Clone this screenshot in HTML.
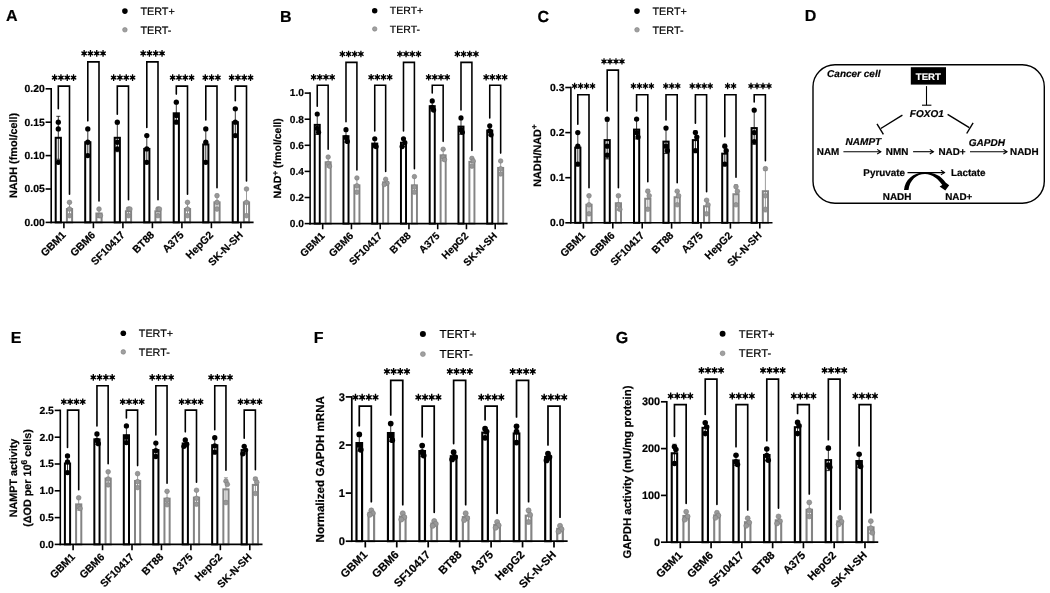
<!DOCTYPE html>
<html><head><meta charset="utf-8"><title>Figure</title>
<style>html,body{margin:0;padding:0;background:#fff;}body{width:1050px;height:593px;overflow:hidden;font-family:"Liberation Sans", sans-serif;}svg{display:block;will-change:transform;transform:translateZ(0);}</style>
</head><body>
<svg width="1050" height="593" viewBox="0 0 1050 593" font-family='"Liberation Sans", sans-serif' text-rendering="geometricPrecision">
<rect x="55.70" y="137.79" width="5.20" height="84.61" fill="#fff" stroke="#000000" stroke-width="2.00"/>
<line x1="58.30" y1="116.31" x2="58.30" y2="159.26" stroke="#000000" stroke-width="0.8" stroke-linecap="butt"/>
<line x1="56.30" y1="116.31" x2="60.30" y2="116.31" stroke="#000000" stroke-width="0.8" stroke-linecap="butt"/>
<line x1="56.30" y1="159.26" x2="60.30" y2="159.26" stroke="#000000" stroke-width="0.8" stroke-linecap="butt"/>
<circle cx="58.30" cy="122.20" r="2.65" fill="#000"/>
<circle cx="58.30" cy="128.88" r="2.65" fill="#000"/>
<circle cx="58.30" cy="162.28" r="2.65" fill="#000"/>
<rect x="66.90" y="209.04" width="5.20" height="13.36" fill="#fff" stroke="#848484" stroke-width="2.00"/>
<line x1="69.50" y1="202.36" x2="69.50" y2="215.72" stroke="#848484" stroke-width="0.8" stroke-linecap="butt"/>
<line x1="67.50" y1="202.36" x2="71.50" y2="202.36" stroke="#848484" stroke-width="0.8" stroke-linecap="butt"/>
<line x1="67.50" y1="215.72" x2="71.50" y2="215.72" stroke="#848484" stroke-width="0.8" stroke-linecap="butt"/>
<circle cx="69.50" cy="202.36" r="2.35" fill="#989898" stroke="#7c7c7c" stroke-width="0.6"/>
<circle cx="69.50" cy="209.04" r="2.35" fill="#989898" stroke="#7c7c7c" stroke-width="0.6"/>
<circle cx="69.50" cy="215.72" r="2.35" fill="#989898" stroke="#7c7c7c" stroke-width="0.6"/>
<rect x="85.20" y="142.24" width="5.20" height="80.16" fill="#fff" stroke="#000000" stroke-width="2.00"/>
<line x1="87.80" y1="128.88" x2="87.80" y2="155.60" stroke="#000000" stroke-width="0.8" stroke-linecap="butt"/>
<line x1="85.80" y1="128.88" x2="89.80" y2="128.88" stroke="#000000" stroke-width="0.8" stroke-linecap="butt"/>
<line x1="85.80" y1="155.60" x2="89.80" y2="155.60" stroke="#000000" stroke-width="0.8" stroke-linecap="butt"/>
<circle cx="87.80" cy="128.88" r="2.65" fill="#000"/>
<circle cx="87.80" cy="142.24" r="2.65" fill="#000"/>
<circle cx="87.80" cy="155.60" r="2.65" fill="#000"/>
<rect x="96.40" y="213.49" width="5.20" height="8.91" fill="#fff" stroke="#848484" stroke-width="2.00"/>
<line x1="99.00" y1="209.64" x2="99.00" y2="217.35" stroke="#848484" stroke-width="0.8" stroke-linecap="butt"/>
<line x1="97.00" y1="209.64" x2="101.00" y2="209.64" stroke="#848484" stroke-width="0.8" stroke-linecap="butt"/>
<line x1="97.00" y1="217.35" x2="101.00" y2="217.35" stroke="#848484" stroke-width="0.8" stroke-linecap="butt"/>
<circle cx="99.00" cy="209.04" r="2.35" fill="#989898" stroke="#7c7c7c" stroke-width="0.6"/>
<circle cx="99.00" cy="215.72" r="2.35" fill="#989898" stroke="#7c7c7c" stroke-width="0.6"/>
<circle cx="100.40" cy="215.72" r="2.35" fill="#989898" stroke="#7c7c7c" stroke-width="0.6"/>
<rect x="114.70" y="137.79" width="5.20" height="84.61" fill="#fff" stroke="#000000" stroke-width="2.00"/>
<line x1="117.30" y1="123.88" x2="117.30" y2="151.69" stroke="#000000" stroke-width="0.8" stroke-linecap="butt"/>
<line x1="115.30" y1="123.88" x2="119.30" y2="123.88" stroke="#000000" stroke-width="0.8" stroke-linecap="butt"/>
<line x1="115.30" y1="151.69" x2="119.30" y2="151.69" stroke="#000000" stroke-width="0.8" stroke-linecap="butt"/>
<circle cx="117.30" cy="122.20" r="2.65" fill="#000"/>
<circle cx="117.30" cy="142.24" r="2.65" fill="#000"/>
<circle cx="117.30" cy="148.92" r="2.65" fill="#000"/>
<rect x="125.90" y="211.27" width="5.20" height="11.13" fill="#fff" stroke="#848484" stroke-width="2.00"/>
<line x1="128.50" y1="207.41" x2="128.50" y2="215.12" stroke="#848484" stroke-width="0.8" stroke-linecap="butt"/>
<line x1="126.50" y1="207.41" x2="130.50" y2="207.41" stroke="#848484" stroke-width="0.8" stroke-linecap="butt"/>
<line x1="126.50" y1="215.12" x2="130.50" y2="215.12" stroke="#848484" stroke-width="0.8" stroke-linecap="butt"/>
<circle cx="128.50" cy="209.04" r="2.35" fill="#989898" stroke="#7c7c7c" stroke-width="0.6"/>
<circle cx="129.90" cy="209.04" r="2.35" fill="#989898" stroke="#7c7c7c" stroke-width="0.6"/>
<circle cx="128.50" cy="215.72" r="2.35" fill="#989898" stroke="#7c7c7c" stroke-width="0.6"/>
<rect x="144.20" y="148.92" width="5.20" height="73.48" fill="#fff" stroke="#000000" stroke-width="2.00"/>
<line x1="146.80" y1="135.56" x2="146.80" y2="162.28" stroke="#000000" stroke-width="0.8" stroke-linecap="butt"/>
<line x1="144.80" y1="135.56" x2="148.80" y2="135.56" stroke="#000000" stroke-width="0.8" stroke-linecap="butt"/>
<line x1="144.80" y1="162.28" x2="148.80" y2="162.28" stroke="#000000" stroke-width="0.8" stroke-linecap="butt"/>
<circle cx="146.80" cy="135.56" r="2.65" fill="#000"/>
<circle cx="146.80" cy="148.92" r="2.65" fill="#000"/>
<circle cx="146.80" cy="162.28" r="2.65" fill="#000"/>
<rect x="155.40" y="211.27" width="5.20" height="11.13" fill="#fff" stroke="#848484" stroke-width="2.00"/>
<line x1="158.00" y1="207.41" x2="158.00" y2="215.12" stroke="#848484" stroke-width="0.8" stroke-linecap="butt"/>
<line x1="156.00" y1="207.41" x2="160.00" y2="207.41" stroke="#848484" stroke-width="0.8" stroke-linecap="butt"/>
<line x1="156.00" y1="215.12" x2="160.00" y2="215.12" stroke="#848484" stroke-width="0.8" stroke-linecap="butt"/>
<circle cx="158.00" cy="209.04" r="2.35" fill="#989898" stroke="#7c7c7c" stroke-width="0.6"/>
<circle cx="159.40" cy="209.04" r="2.35" fill="#989898" stroke="#7c7c7c" stroke-width="0.6"/>
<circle cx="158.00" cy="215.72" r="2.35" fill="#989898" stroke="#7c7c7c" stroke-width="0.6"/>
<rect x="173.70" y="113.29" width="5.20" height="109.11" fill="#fff" stroke="#000000" stroke-width="2.00"/>
<line x1="176.30" y1="103.09" x2="176.30" y2="123.50" stroke="#000000" stroke-width="0.8" stroke-linecap="butt"/>
<line x1="174.30" y1="103.09" x2="178.30" y2="103.09" stroke="#000000" stroke-width="0.8" stroke-linecap="butt"/>
<line x1="174.30" y1="123.50" x2="178.30" y2="123.50" stroke="#000000" stroke-width="0.8" stroke-linecap="butt"/>
<circle cx="176.30" cy="102.16" r="2.65" fill="#000"/>
<circle cx="176.30" cy="115.52" r="2.65" fill="#000"/>
<circle cx="176.30" cy="122.20" r="2.65" fill="#000"/>
<rect x="184.90" y="209.04" width="5.20" height="13.36" fill="#fff" stroke="#848484" stroke-width="2.00"/>
<line x1="187.50" y1="202.36" x2="187.50" y2="215.72" stroke="#848484" stroke-width="0.8" stroke-linecap="butt"/>
<line x1="185.50" y1="202.36" x2="189.50" y2="202.36" stroke="#848484" stroke-width="0.8" stroke-linecap="butt"/>
<line x1="185.50" y1="215.72" x2="189.50" y2="215.72" stroke="#848484" stroke-width="0.8" stroke-linecap="butt"/>
<circle cx="187.50" cy="202.36" r="2.35" fill="#989898" stroke="#7c7c7c" stroke-width="0.6"/>
<circle cx="187.50" cy="209.04" r="2.35" fill="#989898" stroke="#7c7c7c" stroke-width="0.6"/>
<circle cx="187.50" cy="215.72" r="2.35" fill="#989898" stroke="#7c7c7c" stroke-width="0.6"/>
<rect x="203.20" y="144.47" width="5.20" height="77.93" fill="#fff" stroke="#000000" stroke-width="2.00"/>
<line x1="205.80" y1="127.66" x2="205.80" y2="161.28" stroke="#000000" stroke-width="0.8" stroke-linecap="butt"/>
<line x1="203.80" y1="127.66" x2="207.80" y2="127.66" stroke="#000000" stroke-width="0.8" stroke-linecap="butt"/>
<line x1="203.80" y1="161.28" x2="207.80" y2="161.28" stroke="#000000" stroke-width="0.8" stroke-linecap="butt"/>
<circle cx="205.80" cy="128.88" r="2.65" fill="#000"/>
<circle cx="205.80" cy="142.24" r="2.65" fill="#000"/>
<circle cx="205.80" cy="162.28" r="2.65" fill="#000"/>
<rect x="214.40" y="202.36" width="5.20" height="20.04" fill="#fff" stroke="#848484" stroke-width="2.00"/>
<line x1="217.00" y1="195.68" x2="217.00" y2="209.04" stroke="#848484" stroke-width="0.8" stroke-linecap="butt"/>
<line x1="215.00" y1="195.68" x2="219.00" y2="195.68" stroke="#848484" stroke-width="0.8" stroke-linecap="butt"/>
<line x1="215.00" y1="209.04" x2="219.00" y2="209.04" stroke="#848484" stroke-width="0.8" stroke-linecap="butt"/>
<circle cx="217.00" cy="195.68" r="2.35" fill="#989898" stroke="#7c7c7c" stroke-width="0.6"/>
<circle cx="217.00" cy="202.36" r="2.35" fill="#989898" stroke="#7c7c7c" stroke-width="0.6"/>
<circle cx="217.00" cy="209.04" r="2.35" fill="#989898" stroke="#7c7c7c" stroke-width="0.6"/>
<rect x="232.70" y="122.20" width="5.20" height="100.20" fill="#fff" stroke="#000000" stroke-width="2.00"/>
<line x1="235.30" y1="108.84" x2="235.30" y2="135.56" stroke="#000000" stroke-width="0.8" stroke-linecap="butt"/>
<line x1="233.30" y1="108.84" x2="237.30" y2="108.84" stroke="#000000" stroke-width="0.8" stroke-linecap="butt"/>
<line x1="233.30" y1="135.56" x2="237.30" y2="135.56" stroke="#000000" stroke-width="0.8" stroke-linecap="butt"/>
<circle cx="235.30" cy="108.84" r="2.65" fill="#000"/>
<circle cx="235.30" cy="122.20" r="2.65" fill="#000"/>
<circle cx="235.30" cy="135.56" r="2.65" fill="#000"/>
<rect x="243.90" y="202.36" width="5.20" height="20.04" fill="#fff" stroke="#848484" stroke-width="2.00"/>
<line x1="246.50" y1="189.00" x2="246.50" y2="215.72" stroke="#848484" stroke-width="0.8" stroke-linecap="butt"/>
<line x1="244.50" y1="189.00" x2="248.50" y2="189.00" stroke="#848484" stroke-width="0.8" stroke-linecap="butt"/>
<line x1="244.50" y1="215.72" x2="248.50" y2="215.72" stroke="#848484" stroke-width="0.8" stroke-linecap="butt"/>
<circle cx="246.50" cy="189.00" r="2.35" fill="#989898" stroke="#7c7c7c" stroke-width="0.6"/>
<circle cx="246.50" cy="202.36" r="2.35" fill="#989898" stroke="#7c7c7c" stroke-width="0.6"/>
<circle cx="246.50" cy="215.72" r="2.35" fill="#989898" stroke="#7c7c7c" stroke-width="0.6"/>
<line x1="51.20" y1="88.00" x2="51.20" y2="223.20" stroke="#000" stroke-width="1.6" stroke-linecap="butt"/>
<line x1="50.40" y1="222.40" x2="253.60" y2="222.40" stroke="#000" stroke-width="1.6" stroke-linecap="butt"/>
<line x1="45.60" y1="222.40" x2="51.20" y2="222.40" stroke="#000" stroke-width="1.6" stroke-linecap="butt"/>
<text x="44.80" y="225.85" font-size="10.4" font-weight="bold" font-style="normal" text-anchor="end" fill="#000" stroke="#000" stroke-width="0.2">0.00</text>
<line x1="45.60" y1="189.00" x2="51.20" y2="189.00" stroke="#000" stroke-width="1.6" stroke-linecap="butt"/>
<text x="44.80" y="192.45" font-size="10.4" font-weight="bold" font-style="normal" text-anchor="end" fill="#000" stroke="#000" stroke-width="0.2">0.05</text>
<line x1="45.60" y1="155.60" x2="51.20" y2="155.60" stroke="#000" stroke-width="1.6" stroke-linecap="butt"/>
<text x="44.80" y="159.05" font-size="10.4" font-weight="bold" font-style="normal" text-anchor="end" fill="#000" stroke="#000" stroke-width="0.2">0.10</text>
<line x1="45.60" y1="122.20" x2="51.20" y2="122.20" stroke="#000" stroke-width="1.6" stroke-linecap="butt"/>
<text x="44.80" y="125.65" font-size="10.4" font-weight="bold" font-style="normal" text-anchor="end" fill="#000" stroke="#000" stroke-width="0.2">0.15</text>
<line x1="45.60" y1="88.80" x2="51.20" y2="88.80" stroke="#000" stroke-width="1.6" stroke-linecap="butt"/>
<text x="44.80" y="92.25" font-size="10.4" font-weight="bold" font-style="normal" text-anchor="end" fill="#000" stroke="#000" stroke-width="0.2">0.20</text>
<line x1="63.90" y1="222.40" x2="63.90" y2="228.20" stroke="#000" stroke-width="1.6" stroke-linecap="butt"/>
<text x="66.50" y="235.60" font-size="10.5" font-weight="bold" font-style="normal" text-anchor="end" fill="#000" transform="rotate(-45 66.50 235.60)" stroke="#000" stroke-width="0.2">GBM1</text>
<line x1="93.40" y1="222.40" x2="93.40" y2="228.20" stroke="#000" stroke-width="1.6" stroke-linecap="butt"/>
<text x="96.00" y="235.60" font-size="10.5" font-weight="bold" font-style="normal" text-anchor="end" fill="#000" transform="rotate(-45 96.00 235.60)" stroke="#000" stroke-width="0.2">GBM6</text>
<line x1="122.90" y1="222.40" x2="122.90" y2="228.20" stroke="#000" stroke-width="1.6" stroke-linecap="butt"/>
<text x="125.50" y="235.60" font-size="10.5" font-weight="bold" font-style="normal" text-anchor="end" fill="#000" transform="rotate(-45 125.50 235.60)" stroke="#000" stroke-width="0.2">SF10417</text>
<line x1="152.40" y1="222.40" x2="152.40" y2="228.20" stroke="#000" stroke-width="1.6" stroke-linecap="butt"/>
<text x="155.00" y="235.60" font-size="10.5" font-weight="bold" font-style="normal" text-anchor="end" fill="#000" transform="rotate(-45 155.00 235.60)" stroke="#000" stroke-width="0.2">BT88</text>
<line x1="181.90" y1="222.40" x2="181.90" y2="228.20" stroke="#000" stroke-width="1.6" stroke-linecap="butt"/>
<text x="184.50" y="235.60" font-size="10.5" font-weight="bold" font-style="normal" text-anchor="end" fill="#000" transform="rotate(-45 184.50 235.60)" stroke="#000" stroke-width="0.2">A375</text>
<line x1="211.40" y1="222.40" x2="211.40" y2="228.20" stroke="#000" stroke-width="1.6" stroke-linecap="butt"/>
<text x="214.00" y="235.60" font-size="10.5" font-weight="bold" font-style="normal" text-anchor="end" fill="#000" transform="rotate(-45 214.00 235.60)" stroke="#000" stroke-width="0.2">HepG2</text>
<line x1="240.90" y1="222.40" x2="240.90" y2="228.20" stroke="#000" stroke-width="1.6" stroke-linecap="butt"/>
<text x="243.50" y="235.60" font-size="10.5" font-weight="bold" font-style="normal" text-anchor="end" fill="#000" transform="rotate(-45 243.50 235.60)" stroke="#000" stroke-width="0.2">SK-N-SH</text>
<path d="M58.30 108.71 V86.10 H69.50 V194.31" fill="none" stroke="#000" stroke-width="1.60" stroke-linecap="round"/>
<path d="M54.03 74.30L55.27 74.30L55.38 76.29L57.04 75.38L57.69 76.43L56.15 77.60L57.69 78.77L57.04 79.82L55.38 78.91L55.27 80.90L54.03 80.90L53.92 78.91L52.26 79.82L51.61 78.77L53.15 77.60L51.61 76.43L52.26 75.38L53.92 76.29ZM60.33 74.30L61.57 74.30L61.68 76.29L63.34 75.38L63.99 76.43L62.45 77.60L63.99 78.77L63.34 79.82L61.68 78.91L61.57 80.90L60.33 80.90L60.22 78.91L58.56 79.82L57.91 78.77L59.45 77.60L57.91 76.43L58.56 75.38L60.22 76.29ZM66.63 74.30L67.87 74.30L67.98 76.29L69.64 75.38L70.29 76.43L68.75 77.60L70.29 78.77L69.64 79.82L67.98 78.91L67.87 80.90L66.63 80.90L66.52 78.91L64.86 79.82L64.21 78.77L65.75 77.60L64.21 76.43L64.86 75.38L66.52 76.29ZM72.93 74.30L74.17 74.30L74.28 76.29L75.94 75.38L76.59 76.43L75.05 77.60L76.59 78.77L75.94 79.82L74.28 78.91L74.17 80.90L72.93 80.90L72.82 78.91L71.16 79.82L70.51 78.77L72.05 77.60L70.51 76.43L71.16 75.38L72.82 76.29Z" fill="#000"/>
<path d="M87.80 120.83 V61.90 H99.00 V200.99" fill="none" stroke="#000" stroke-width="1.60" stroke-linecap="round"/>
<path d="M83.53 50.10L84.77 50.10L84.88 52.09L86.54 51.18L87.19 52.23L85.65 53.40L87.19 54.57L86.54 55.62L84.88 54.71L84.77 56.70L83.53 56.70L83.42 54.71L81.76 55.62L81.11 54.57L82.65 53.40L81.11 52.23L81.76 51.18L83.42 52.09ZM89.83 50.10L91.07 50.10L91.18 52.09L92.84 51.18L93.49 52.23L91.95 53.40L93.49 54.57L92.84 55.62L91.18 54.71L91.07 56.70L89.83 56.70L89.72 54.71L88.06 55.62L87.41 54.57L88.95 53.40L87.41 52.23L88.06 51.18L89.72 52.09ZM96.13 50.10L97.37 50.10L97.48 52.09L99.14 51.18L99.79 52.23L98.25 53.40L99.79 54.57L99.14 55.62L97.48 54.71L97.37 56.70L96.13 56.70L96.02 54.71L94.36 55.62L93.71 54.57L95.25 53.40L93.71 52.23L94.36 51.18L96.02 52.09ZM102.43 50.10L103.67 50.10L103.78 52.09L105.44 51.18L106.09 52.23L104.55 53.40L106.09 54.57L105.44 55.62L103.78 54.71L103.67 56.70L102.43 56.70L102.32 54.71L100.66 55.62L100.01 54.57L101.55 53.40L100.01 52.23L100.66 51.18L102.32 52.09Z" fill="#000"/>
<path d="M117.30 114.15 V86.10 H128.50 V199.81" fill="none" stroke="#000" stroke-width="1.60" stroke-linecap="round"/>
<path d="M113.03 74.30L114.27 74.30L114.38 76.29L116.04 75.38L116.69 76.43L115.15 77.60L116.69 78.77L116.04 79.82L114.38 78.91L114.27 80.90L113.03 80.90L112.92 78.91L111.26 79.82L110.61 78.77L112.15 77.60L110.61 76.43L111.26 75.38L112.92 76.29ZM119.33 74.30L120.57 74.30L120.68 76.29L122.34 75.38L122.99 76.43L121.45 77.60L122.99 78.77L122.34 79.82L120.68 78.91L120.57 80.90L119.33 80.90L119.22 78.91L117.56 79.82L116.91 78.77L118.45 77.60L116.91 76.43L117.56 75.38L119.22 76.29ZM125.63 74.30L126.87 74.30L126.98 76.29L128.64 75.38L129.29 76.43L127.75 77.60L129.29 78.77L128.64 79.82L126.98 78.91L126.87 80.90L125.63 80.90L125.52 78.91L123.86 79.82L123.21 78.77L124.75 77.60L123.21 76.43L123.86 75.38L125.52 76.29ZM131.93 74.30L133.17 74.30L133.28 76.29L134.94 75.38L135.59 76.43L134.05 77.60L135.59 78.77L134.94 79.82L133.28 78.91L133.17 80.90L131.93 80.90L131.82 78.91L130.16 79.82L129.51 78.77L131.05 77.60L129.51 76.43L130.16 75.38L131.82 76.29Z" fill="#000"/>
<path d="M146.80 127.51 V61.90 H158.00 V199.81" fill="none" stroke="#000" stroke-width="1.60" stroke-linecap="round"/>
<path d="M142.53 50.10L143.77 50.10L143.88 52.09L145.54 51.18L146.19 52.23L144.65 53.40L146.19 54.57L145.54 55.62L143.88 54.71L143.77 56.70L142.53 56.70L142.42 54.71L140.76 55.62L140.11 54.57L141.65 53.40L140.11 52.23L140.76 51.18L142.42 52.09ZM148.83 50.10L150.07 50.10L150.18 52.09L151.84 51.18L152.49 52.23L150.95 53.40L152.49 54.57L151.84 55.62L150.18 54.71L150.07 56.70L148.83 56.70L148.72 54.71L147.06 55.62L146.41 54.57L147.95 53.40L146.41 52.23L147.06 51.18L148.72 52.09ZM155.13 50.10L156.37 50.10L156.48 52.09L158.14 51.18L158.79 52.23L157.25 53.40L158.79 54.57L158.14 55.62L156.48 54.71L156.37 56.70L155.13 56.70L155.02 54.71L153.36 55.62L152.71 54.57L154.25 53.40L152.71 52.23L153.36 51.18L155.02 52.09ZM161.43 50.10L162.67 50.10L162.78 52.09L164.44 51.18L165.09 52.23L163.55 53.40L165.09 54.57L164.44 55.62L162.78 54.71L162.67 56.70L161.43 56.70L161.32 54.71L159.66 55.62L159.01 54.57L160.55 53.40L159.01 52.23L159.66 51.18L161.32 52.09Z" fill="#000"/>
<path d="M176.30 94.11 V86.10 H187.50 V194.31" fill="none" stroke="#000" stroke-width="1.60" stroke-linecap="round"/>
<path d="M172.03 74.30L173.27 74.30L173.38 76.29L175.04 75.38L175.69 76.43L174.15 77.60L175.69 78.77L175.04 79.82L173.38 78.91L173.27 80.90L172.03 80.90L171.92 78.91L170.26 79.82L169.61 78.77L171.15 77.60L169.61 76.43L170.26 75.38L171.92 76.29ZM178.33 74.30L179.57 74.30L179.68 76.29L181.34 75.38L181.99 76.43L180.45 77.60L181.99 78.77L181.34 79.82L179.68 78.91L179.57 80.90L178.33 80.90L178.22 78.91L176.56 79.82L175.91 78.77L177.45 77.60L175.91 76.43L176.56 75.38L178.22 76.29ZM184.63 74.30L185.87 74.30L185.98 76.29L187.64 75.38L188.29 76.43L186.75 77.60L188.29 78.77L187.64 79.82L185.98 78.91L185.87 80.90L184.63 80.90L184.52 78.91L182.86 79.82L182.21 78.77L183.75 77.60L182.21 76.43L182.86 75.38L184.52 76.29ZM190.93 74.30L192.17 74.30L192.28 76.29L193.94 75.38L194.59 76.43L193.05 77.60L194.59 78.77L193.94 79.82L192.28 78.91L192.17 80.90L190.93 80.90L190.82 78.91L189.16 79.82L188.51 78.77L190.05 77.60L188.51 76.43L189.16 75.38L190.82 76.29Z" fill="#000"/>
<path d="M205.80 120.06 V86.10 H217.00 V187.63" fill="none" stroke="#000" stroke-width="1.60" stroke-linecap="round"/>
<path d="M204.68 74.30L205.92 74.30L206.03 76.29L207.69 75.38L208.34 76.43L206.80 77.60L208.34 78.77L207.69 79.82L206.03 78.91L205.92 80.90L204.68 80.90L204.57 78.91L202.91 79.82L202.26 78.77L203.80 77.60L202.26 76.43L202.91 75.38L204.57 76.29ZM210.98 74.30L212.22 74.30L212.33 76.29L213.99 75.38L214.64 76.43L213.10 77.60L214.64 78.77L213.99 79.82L212.33 78.91L212.22 80.90L210.98 80.90L210.87 78.91L209.21 79.82L208.56 78.77L210.10 77.60L208.56 76.43L209.21 75.38L210.87 76.29ZM217.28 74.30L218.52 74.30L218.63 76.29L220.29 75.38L220.94 76.43L219.40 77.60L220.94 78.77L220.29 79.82L218.63 78.91L218.52 80.90L217.28 80.90L217.17 78.91L215.51 79.82L214.86 78.77L216.40 77.60L214.86 76.43L215.51 75.38L217.17 76.29Z" fill="#000"/>
<path d="M235.30 100.79 V86.10 H246.50 V180.95" fill="none" stroke="#000" stroke-width="1.60" stroke-linecap="round"/>
<path d="M231.03 74.30L232.27 74.30L232.38 76.29L234.04 75.38L234.69 76.43L233.15 77.60L234.69 78.77L234.04 79.82L232.38 78.91L232.27 80.90L231.03 80.90L230.92 78.91L229.26 79.82L228.61 78.77L230.15 77.60L228.61 76.43L229.26 75.38L230.92 76.29ZM237.33 74.30L238.57 74.30L238.68 76.29L240.34 75.38L240.99 76.43L239.45 77.60L240.99 78.77L240.34 79.82L238.68 78.91L238.57 80.90L237.33 80.90L237.22 78.91L235.56 79.82L234.91 78.77L236.45 77.60L234.91 76.43L235.56 75.38L237.22 76.29ZM243.63 74.30L244.87 74.30L244.98 76.29L246.64 75.38L247.29 76.43L245.75 77.60L247.29 78.77L246.64 79.82L244.98 78.91L244.87 80.90L243.63 80.90L243.52 78.91L241.86 79.82L241.21 78.77L242.75 77.60L241.21 76.43L241.86 75.38L243.52 76.29ZM249.93 74.30L251.17 74.30L251.28 76.29L252.94 75.38L253.59 76.43L252.05 77.60L253.59 78.77L252.94 79.82L251.28 78.91L251.17 80.90L249.93 80.90L249.82 78.91L248.16 79.82L247.51 78.77L249.05 77.60L247.51 76.43L248.16 75.38L249.82 76.29Z" fill="#000"/>
<circle cx="124.90" cy="11.10" r="2.80" fill="#000"/>
<circle cx="124.90" cy="29.80" r="2.30" fill="#a0a0a0" stroke="#7c7c7c" stroke-width="0.6"/>
<text x="140.40" y="14.95" font-size="10.8" font-weight="normal" font-style="normal" text-anchor="start" fill="#000" stroke="#000" stroke-width="0.2">TERT+</text>
<text x="140.40" y="33.60" font-size="10.8" font-weight="normal" font-style="normal" text-anchor="start" fill="#000" stroke="#000" stroke-width="0.2">TERT-</text>
<text x="6.00" y="20.80" font-size="16" font-weight="bold" font-style="normal" text-anchor="start" fill="#000" stroke="#000" stroke-width="0.2">A</text>
<text x="16.90" y="155.50" font-size="10.8" font-weight="bold" font-style="normal" text-anchor="middle" fill="#000" transform="rotate(-90 16.90 155.50)" stroke="#000" stroke-width="0.2">NADH (fmol/cell)</text>
<rect x="314.70" y="124.85" width="5.07" height="98.75" fill="#fff" stroke="#000000" stroke-width="1.95"/>
<line x1="317.24" y1="115.24" x2="317.24" y2="134.47" stroke="#000000" stroke-width="0.8" stroke-linecap="butt"/>
<line x1="315.29" y1="115.24" x2="319.19" y2="115.24" stroke="#000000" stroke-width="0.8" stroke-linecap="butt"/>
<line x1="315.29" y1="134.47" x2="319.19" y2="134.47" stroke="#000000" stroke-width="0.8" stroke-linecap="butt"/>
<circle cx="317.24" cy="113.98" r="2.58" fill="#000"/>
<circle cx="317.24" cy="128.33" r="2.58" fill="#000"/>
<circle cx="318.61" cy="132.25" r="2.58" fill="#000"/>
<rect x="325.62" y="162.26" width="5.07" height="61.34" fill="#fff" stroke="#848484" stroke-width="1.95"/>
<line x1="328.16" y1="157.56" x2="328.16" y2="166.97" stroke="#848484" stroke-width="0.8" stroke-linecap="butt"/>
<line x1="326.21" y1="157.56" x2="330.11" y2="157.56" stroke="#848484" stroke-width="0.8" stroke-linecap="butt"/>
<line x1="326.21" y1="166.97" x2="330.11" y2="166.97" stroke="#848484" stroke-width="0.8" stroke-linecap="butt"/>
<circle cx="328.16" cy="157.04" r="2.28" fill="#989898" stroke="#7c7c7c" stroke-width="0.6"/>
<circle cx="328.16" cy="163.57" r="2.28" fill="#989898" stroke="#7c7c7c" stroke-width="0.6"/>
<circle cx="329.52" cy="166.18" r="2.28" fill="#989898" stroke="#7c7c7c" stroke-width="0.6"/>
<rect x="343.45" y="136.17" width="5.07" height="87.43" fill="#fff" stroke="#000000" stroke-width="1.95"/>
<line x1="345.99" y1="130.18" x2="345.99" y2="142.15" stroke="#000000" stroke-width="0.8" stroke-linecap="butt"/>
<line x1="344.04" y1="130.18" x2="347.94" y2="130.18" stroke="#000000" stroke-width="0.8" stroke-linecap="butt"/>
<line x1="344.04" y1="142.15" x2="347.94" y2="142.15" stroke="#000000" stroke-width="0.8" stroke-linecap="butt"/>
<circle cx="345.99" cy="129.64" r="2.58" fill="#000"/>
<circle cx="345.99" cy="137.47" r="2.58" fill="#000"/>
<circle cx="347.36" cy="141.38" r="2.58" fill="#000"/>
<rect x="354.37" y="185.32" width="5.07" height="38.28" fill="#fff" stroke="#848484" stroke-width="1.95"/>
<line x1="356.91" y1="178.13" x2="356.91" y2="192.51" stroke="#848484" stroke-width="0.8" stroke-linecap="butt"/>
<line x1="354.96" y1="178.13" x2="358.86" y2="178.13" stroke="#848484" stroke-width="0.8" stroke-linecap="butt"/>
<line x1="354.96" y1="192.51" x2="358.86" y2="192.51" stroke="#848484" stroke-width="0.8" stroke-linecap="butt"/>
<circle cx="356.91" cy="177.93" r="2.28" fill="#989898" stroke="#7c7c7c" stroke-width="0.6"/>
<circle cx="356.91" cy="185.75" r="2.28" fill="#989898" stroke="#7c7c7c" stroke-width="0.6"/>
<circle cx="356.91" cy="192.28" r="2.28" fill="#989898" stroke="#7c7c7c" stroke-width="0.6"/>
<rect x="372.20" y="143.56" width="5.07" height="80.04" fill="#fff" stroke="#000000" stroke-width="1.95"/>
<line x1="374.74" y1="139.37" x2="374.74" y2="147.75" stroke="#000000" stroke-width="0.8" stroke-linecap="butt"/>
<line x1="372.79" y1="139.37" x2="376.69" y2="139.37" stroke="#000000" stroke-width="0.8" stroke-linecap="butt"/>
<line x1="372.79" y1="147.75" x2="376.69" y2="147.75" stroke="#000000" stroke-width="0.8" stroke-linecap="butt"/>
<circle cx="374.74" cy="138.77" r="2.58" fill="#000"/>
<circle cx="374.74" cy="145.30" r="2.58" fill="#000"/>
<circle cx="376.11" cy="146.61" r="2.58" fill="#000"/>
<rect x="383.12" y="182.28" width="5.07" height="41.32" fill="#fff" stroke="#848484" stroke-width="1.95"/>
<line x1="385.66" y1="179.56" x2="385.66" y2="184.99" stroke="#848484" stroke-width="0.8" stroke-linecap="butt"/>
<line x1="383.71" y1="179.56" x2="387.61" y2="179.56" stroke="#848484" stroke-width="0.8" stroke-linecap="butt"/>
<line x1="383.71" y1="184.99" x2="387.61" y2="184.99" stroke="#848484" stroke-width="0.8" stroke-linecap="butt"/>
<circle cx="385.66" cy="179.23" r="2.28" fill="#989898" stroke="#7c7c7c" stroke-width="0.6"/>
<circle cx="387.02" cy="183.14" r="2.28" fill="#989898" stroke="#7c7c7c" stroke-width="0.6"/>
<circle cx="384.29" cy="184.45" r="2.28" fill="#989898" stroke="#7c7c7c" stroke-width="0.6"/>
<rect x="400.95" y="142.69" width="5.07" height="80.91" fill="#fff" stroke="#000000" stroke-width="1.95"/>
<line x1="403.49" y1="138.77" x2="403.49" y2="146.61" stroke="#000000" stroke-width="0.8" stroke-linecap="butt"/>
<line x1="401.54" y1="138.77" x2="405.44" y2="138.77" stroke="#000000" stroke-width="0.8" stroke-linecap="butt"/>
<line x1="401.54" y1="146.61" x2="405.44" y2="146.61" stroke="#000000" stroke-width="0.8" stroke-linecap="butt"/>
<circle cx="403.49" cy="138.77" r="2.58" fill="#000"/>
<circle cx="404.86" cy="142.69" r="2.58" fill="#000"/>
<circle cx="402.12" cy="146.61" r="2.58" fill="#000"/>
<rect x="411.87" y="185.32" width="5.07" height="38.28" fill="#fff" stroke="#848484" stroke-width="1.95"/>
<line x1="414.41" y1="177.35" x2="414.41" y2="193.29" stroke="#848484" stroke-width="0.8" stroke-linecap="butt"/>
<line x1="412.46" y1="177.35" x2="416.36" y2="177.35" stroke="#848484" stroke-width="0.8" stroke-linecap="butt"/>
<line x1="412.46" y1="193.29" x2="416.36" y2="193.29" stroke="#848484" stroke-width="0.8" stroke-linecap="butt"/>
<circle cx="414.41" cy="176.62" r="2.28" fill="#989898" stroke="#7c7c7c" stroke-width="0.6"/>
<circle cx="414.41" cy="187.06" r="2.28" fill="#989898" stroke="#7c7c7c" stroke-width="0.6"/>
<circle cx="414.41" cy="192.28" r="2.28" fill="#989898" stroke="#7c7c7c" stroke-width="0.6"/>
<rect x="429.70" y="106.15" width="5.07" height="117.45" fill="#fff" stroke="#000000" stroke-width="1.95"/>
<line x1="432.24" y1="101.44" x2="432.24" y2="110.86" stroke="#000000" stroke-width="0.8" stroke-linecap="butt"/>
<line x1="430.29" y1="101.44" x2="434.19" y2="101.44" stroke="#000000" stroke-width="0.8" stroke-linecap="butt"/>
<line x1="430.29" y1="110.86" x2="434.19" y2="110.86" stroke="#000000" stroke-width="0.8" stroke-linecap="butt"/>
<circle cx="432.24" cy="100.93" r="2.58" fill="#000"/>
<circle cx="432.24" cy="107.45" r="2.58" fill="#000"/>
<circle cx="433.61" cy="110.06" r="2.58" fill="#000"/>
<rect x="440.62" y="155.31" width="5.07" height="68.29" fill="#fff" stroke="#848484" stroke-width="1.95"/>
<line x1="443.16" y1="149.87" x2="443.16" y2="160.74" stroke="#848484" stroke-width="0.8" stroke-linecap="butt"/>
<line x1="441.21" y1="149.87" x2="445.11" y2="149.87" stroke="#848484" stroke-width="0.8" stroke-linecap="butt"/>
<line x1="441.21" y1="160.74" x2="445.11" y2="160.74" stroke="#848484" stroke-width="0.8" stroke-linecap="butt"/>
<circle cx="443.16" cy="149.22" r="2.28" fill="#989898" stroke="#7c7c7c" stroke-width="0.6"/>
<circle cx="443.16" cy="157.04" r="2.28" fill="#989898" stroke="#7c7c7c" stroke-width="0.6"/>
<circle cx="444.52" cy="159.66" r="2.28" fill="#989898" stroke="#7c7c7c" stroke-width="0.6"/>
<rect x="458.45" y="126.59" width="5.07" height="97.00" fill="#fff" stroke="#000000" stroke-width="1.95"/>
<line x1="460.99" y1="118.95" x2="460.99" y2="134.24" stroke="#000000" stroke-width="0.8" stroke-linecap="butt"/>
<line x1="459.04" y1="118.95" x2="462.94" y2="118.95" stroke="#000000" stroke-width="0.8" stroke-linecap="butt"/>
<line x1="459.04" y1="134.24" x2="462.94" y2="134.24" stroke="#000000" stroke-width="0.8" stroke-linecap="butt"/>
<circle cx="460.99" cy="117.89" r="2.58" fill="#000"/>
<circle cx="460.99" cy="129.64" r="2.58" fill="#000"/>
<circle cx="462.36" cy="132.25" r="2.58" fill="#000"/>
<rect x="469.37" y="161.83" width="5.07" height="61.77" fill="#fff" stroke="#848484" stroke-width="1.95"/>
<line x1="471.91" y1="157.84" x2="471.91" y2="165.82" stroke="#848484" stroke-width="0.8" stroke-linecap="butt"/>
<line x1="469.96" y1="157.84" x2="473.86" y2="157.84" stroke="#848484" stroke-width="0.8" stroke-linecap="butt"/>
<line x1="469.96" y1="165.82" x2="473.86" y2="165.82" stroke="#848484" stroke-width="0.8" stroke-linecap="butt"/>
<circle cx="471.91" cy="158.35" r="2.28" fill="#989898" stroke="#7c7c7c" stroke-width="0.6"/>
<circle cx="473.27" cy="160.96" r="2.28" fill="#989898" stroke="#7c7c7c" stroke-width="0.6"/>
<circle cx="471.91" cy="166.18" r="2.28" fill="#989898" stroke="#7c7c7c" stroke-width="0.6"/>
<rect x="487.20" y="130.51" width="5.07" height="93.09" fill="#fff" stroke="#000000" stroke-width="1.95"/>
<line x1="489.74" y1="125.93" x2="489.74" y2="135.09" stroke="#000000" stroke-width="0.8" stroke-linecap="butt"/>
<line x1="487.79" y1="125.93" x2="491.69" y2="125.93" stroke="#000000" stroke-width="0.8" stroke-linecap="butt"/>
<line x1="487.79" y1="135.09" x2="491.69" y2="135.09" stroke="#000000" stroke-width="0.8" stroke-linecap="butt"/>
<circle cx="489.74" cy="125.72" r="2.58" fill="#000"/>
<circle cx="489.74" cy="130.94" r="2.58" fill="#000"/>
<circle cx="491.11" cy="134.86" r="2.58" fill="#000"/>
<rect x="498.12" y="167.92" width="5.07" height="55.68" fill="#fff" stroke="#848484" stroke-width="1.95"/>
<line x1="500.66" y1="161.35" x2="500.66" y2="174.49" stroke="#848484" stroke-width="0.8" stroke-linecap="butt"/>
<line x1="498.71" y1="161.35" x2="502.61" y2="161.35" stroke="#848484" stroke-width="0.8" stroke-linecap="butt"/>
<line x1="498.71" y1="174.49" x2="502.61" y2="174.49" stroke="#848484" stroke-width="0.8" stroke-linecap="butt"/>
<circle cx="500.66" cy="160.96" r="2.28" fill="#989898" stroke="#7c7c7c" stroke-width="0.6"/>
<circle cx="500.66" cy="168.79" r="2.28" fill="#989898" stroke="#7c7c7c" stroke-width="0.6"/>
<circle cx="500.66" cy="174.01" r="2.28" fill="#989898" stroke="#7c7c7c" stroke-width="0.6"/>
<line x1="310.10" y1="92.32" x2="310.10" y2="224.38" stroke="#000" stroke-width="1.56" stroke-linecap="butt"/>
<line x1="309.32" y1="223.60" x2="507.58" y2="223.60" stroke="#000" stroke-width="1.56" stroke-linecap="butt"/>
<line x1="304.64" y1="223.60" x2="310.10" y2="223.60" stroke="#000" stroke-width="1.56" stroke-linecap="butt"/>
<text x="303.86" y="226.96" font-size="10.14" font-weight="bold" font-style="normal" text-anchor="end" fill="#000" stroke="#000" stroke-width="0.2">0.0</text>
<line x1="304.64" y1="197.50" x2="310.10" y2="197.50" stroke="#000" stroke-width="1.56" stroke-linecap="butt"/>
<text x="303.86" y="200.86" font-size="10.14" font-weight="bold" font-style="normal" text-anchor="end" fill="#000" stroke="#000" stroke-width="0.2">0.2</text>
<line x1="304.64" y1="171.40" x2="310.10" y2="171.40" stroke="#000" stroke-width="1.56" stroke-linecap="butt"/>
<text x="303.86" y="174.76" font-size="10.14" font-weight="bold" font-style="normal" text-anchor="end" fill="#000" stroke="#000" stroke-width="0.2">0.4</text>
<line x1="304.64" y1="145.30" x2="310.10" y2="145.30" stroke="#000" stroke-width="1.56" stroke-linecap="butt"/>
<text x="303.86" y="148.66" font-size="10.14" font-weight="bold" font-style="normal" text-anchor="end" fill="#000" stroke="#000" stroke-width="0.2">0.6</text>
<line x1="304.64" y1="119.20" x2="310.10" y2="119.20" stroke="#000" stroke-width="1.56" stroke-linecap="butt"/>
<text x="303.86" y="122.56" font-size="10.14" font-weight="bold" font-style="normal" text-anchor="end" fill="#000" stroke="#000" stroke-width="0.2">0.8</text>
<line x1="304.64" y1="93.10" x2="310.10" y2="93.10" stroke="#000" stroke-width="1.56" stroke-linecap="butt"/>
<text x="303.86" y="96.46" font-size="10.14" font-weight="bold" font-style="normal" text-anchor="end" fill="#000" stroke="#000" stroke-width="0.2">1.0</text>
<line x1="322.70" y1="223.60" x2="322.70" y2="229.25" stroke="#000" stroke-width="1.56" stroke-linecap="butt"/>
<text x="325.24" y="236.47" font-size="10.24" font-weight="bold" font-style="normal" text-anchor="end" fill="#000" transform="rotate(-45 325.24 236.47)" stroke="#000" stroke-width="0.2">GBM1</text>
<line x1="351.45" y1="223.60" x2="351.45" y2="229.25" stroke="#000" stroke-width="1.56" stroke-linecap="butt"/>
<text x="353.99" y="236.47" font-size="10.24" font-weight="bold" font-style="normal" text-anchor="end" fill="#000" transform="rotate(-45 353.99 236.47)" stroke="#000" stroke-width="0.2">GBM6</text>
<line x1="380.20" y1="223.60" x2="380.20" y2="229.25" stroke="#000" stroke-width="1.56" stroke-linecap="butt"/>
<text x="382.74" y="236.47" font-size="10.24" font-weight="bold" font-style="normal" text-anchor="end" fill="#000" transform="rotate(-45 382.74 236.47)" stroke="#000" stroke-width="0.2">SF10417</text>
<line x1="408.95" y1="223.60" x2="408.95" y2="229.25" stroke="#000" stroke-width="1.56" stroke-linecap="butt"/>
<text x="411.49" y="236.47" font-size="10.24" font-weight="bold" font-style="normal" text-anchor="end" fill="#000" transform="rotate(-45 411.49 236.47)" stroke="#000" stroke-width="0.2">BT88</text>
<line x1="437.70" y1="223.60" x2="437.70" y2="229.25" stroke="#000" stroke-width="1.56" stroke-linecap="butt"/>
<text x="440.24" y="236.47" font-size="10.24" font-weight="bold" font-style="normal" text-anchor="end" fill="#000" transform="rotate(-45 440.24 236.47)" stroke="#000" stroke-width="0.2">A375</text>
<line x1="466.45" y1="223.60" x2="466.45" y2="229.25" stroke="#000" stroke-width="1.56" stroke-linecap="butt"/>
<text x="468.99" y="236.47" font-size="10.24" font-weight="bold" font-style="normal" text-anchor="end" fill="#000" transform="rotate(-45 468.99 236.47)" stroke="#000" stroke-width="0.2">HepG2</text>
<line x1="495.20" y1="223.60" x2="495.20" y2="229.25" stroke="#000" stroke-width="1.56" stroke-linecap="butt"/>
<text x="497.74" y="236.47" font-size="10.24" font-weight="bold" font-style="normal" text-anchor="end" fill="#000" transform="rotate(-45 497.74 236.47)" stroke="#000" stroke-width="0.2">SK-N-SH</text>
<path d="M317.24 106.13 V85.30 H328.16 V149.20" fill="none" stroke="#000" stroke-width="1.56" stroke-linecap="round"/>
<path d="M313.03 73.97L314.25 73.97L314.35 75.92L315.98 75.03L316.62 76.06L315.11 77.21L316.62 78.35L315.98 79.38L314.35 78.49L314.25 80.44L313.03 80.44L312.93 78.49L311.30 79.38L310.66 78.35L312.17 77.21L310.66 76.06L311.30 75.03L312.93 75.92ZM319.21 73.97L320.42 73.97L320.53 75.92L322.15 75.03L322.79 76.06L321.28 77.21L322.79 78.35L322.15 79.38L320.53 78.49L320.42 80.44L319.21 80.44L319.10 78.49L317.48 79.38L316.83 78.35L318.34 77.21L316.83 76.06L317.48 75.03L319.10 75.92ZM325.38 73.97L326.59 73.97L326.70 75.92L328.32 75.03L328.97 76.06L327.46 77.21L328.97 78.35L328.32 79.38L326.70 78.49L326.59 80.44L325.38 80.44L325.27 78.49L323.65 79.38L323.01 78.35L324.52 77.21L323.01 76.06L323.65 75.03L325.27 75.92ZM331.55 73.97L332.77 73.97L332.87 75.92L334.50 75.03L335.14 76.06L333.63 77.21L335.14 78.35L334.50 79.38L332.87 78.49L332.77 80.44L331.55 80.44L331.45 78.49L329.82 79.38L329.18 78.35L330.69 77.21L329.18 76.06L329.82 75.03L331.45 75.92Z" fill="#000"/>
<path d="M345.99 121.79 V62.40 H356.91 V170.08" fill="none" stroke="#000" stroke-width="1.56" stroke-linecap="round"/>
<path d="M341.78 50.77L343.00 50.77L343.10 52.72L344.73 51.83L345.37 52.86L343.86 54.01L345.37 55.15L344.73 56.18L343.10 55.29L343.00 57.24L341.78 57.24L341.68 55.29L340.05 56.18L339.41 55.15L340.92 54.01L339.41 52.86L340.05 51.83L341.68 52.72ZM347.96 50.77L349.17 50.77L349.28 52.72L350.90 51.83L351.54 52.86L350.03 54.01L351.54 55.15L350.90 56.18L349.28 55.29L349.17 57.24L347.96 57.24L347.85 55.29L346.23 56.18L345.58 55.15L347.09 54.01L345.58 52.86L346.23 51.83L347.85 52.72ZM354.13 50.77L355.34 50.77L355.45 52.72L357.07 51.83L357.72 52.86L356.21 54.01L357.72 55.15L357.07 56.18L355.45 55.29L355.34 57.24L354.13 57.24L354.02 55.29L352.40 56.18L351.76 55.15L353.27 54.01L351.76 52.86L352.40 51.83L354.02 52.72ZM360.30 50.77L361.52 50.77L361.62 52.72L363.25 51.83L363.89 52.86L362.38 54.01L363.89 55.15L363.25 56.18L361.62 55.29L361.52 57.24L360.30 57.24L360.20 55.29L358.57 56.18L357.93 55.15L359.44 54.01L357.93 52.86L358.57 51.83L360.20 52.72Z" fill="#000"/>
<path d="M374.74 130.93 V85.30 H385.66 V171.38" fill="none" stroke="#000" stroke-width="1.56" stroke-linecap="round"/>
<path d="M370.53 73.97L371.75 73.97L371.85 75.92L373.48 75.03L374.12 76.06L372.61 77.21L374.12 78.35L373.48 79.38L371.85 78.49L371.75 80.44L370.53 80.44L370.43 78.49L368.80 79.38L368.16 78.35L369.67 77.21L368.16 76.06L368.80 75.03L370.43 75.92ZM376.71 73.97L377.92 73.97L378.03 75.92L379.65 75.03L380.29 76.06L378.78 77.21L380.29 78.35L379.65 79.38L378.03 78.49L377.92 80.44L376.71 80.44L376.60 78.49L374.98 79.38L374.33 78.35L375.84 77.21L374.33 76.06L374.98 75.03L376.60 75.92ZM382.88 73.97L384.09 73.97L384.20 75.92L385.82 75.03L386.47 76.06L384.96 77.21L386.47 78.35L385.82 79.38L384.20 78.49L384.09 80.44L382.88 80.44L382.77 78.49L381.15 79.38L380.51 78.35L382.02 77.21L380.51 76.06L381.15 75.03L382.77 75.92ZM389.05 73.97L390.27 73.97L390.37 75.92L392.00 75.03L392.64 76.06L391.13 77.21L392.64 78.35L392.00 79.38L390.37 78.49L390.27 80.44L389.05 80.44L388.95 78.49L387.32 79.38L386.68 78.35L388.19 77.21L386.68 76.06L387.32 75.03L388.95 75.92Z" fill="#000"/>
<path d="M403.49 130.93 V62.40 H414.41 V168.77" fill="none" stroke="#000" stroke-width="1.56" stroke-linecap="round"/>
<path d="M399.28 50.77L400.50 50.77L400.60 52.72L402.23 51.83L402.87 52.86L401.36 54.01L402.87 55.15L402.23 56.18L400.60 55.29L400.50 57.24L399.28 57.24L399.18 55.29L397.55 56.18L396.91 55.15L398.42 54.01L396.91 52.86L397.55 51.83L399.18 52.72ZM405.46 50.77L406.67 50.77L406.78 52.72L408.40 51.83L409.04 52.86L407.53 54.01L409.04 55.15L408.40 56.18L406.78 55.29L406.67 57.24L405.46 57.24L405.35 55.29L403.73 56.18L403.08 55.15L404.59 54.01L403.08 52.86L403.73 51.83L405.35 52.72ZM411.63 50.77L412.84 50.77L412.95 52.72L414.57 51.83L415.22 52.86L413.71 54.01L415.22 55.15L414.57 56.18L412.95 55.29L412.84 57.24L411.63 57.24L411.52 55.29L409.90 56.18L409.26 55.15L410.77 54.01L409.26 52.86L409.90 51.83L411.52 52.72ZM417.80 50.77L419.02 50.77L419.12 52.72L420.75 51.83L421.39 52.86L419.88 54.01L421.39 55.15L420.75 56.18L419.12 55.29L419.02 57.24L417.80 57.24L417.70 55.29L416.07 56.18L415.43 55.15L416.94 54.01L415.43 52.86L416.07 51.83L417.70 52.72Z" fill="#000"/>
<path d="M432.24 93.08 V85.30 H443.16 V141.37" fill="none" stroke="#000" stroke-width="1.56" stroke-linecap="round"/>
<path d="M428.03 73.97L429.25 73.97L429.35 75.92L430.98 75.03L431.62 76.06L430.11 77.21L431.62 78.35L430.98 79.38L429.35 78.49L429.25 80.44L428.03 80.44L427.93 78.49L426.30 79.38L425.66 78.35L427.17 77.21L425.66 76.06L426.30 75.03L427.93 75.92ZM434.21 73.97L435.42 73.97L435.53 75.92L437.15 75.03L437.79 76.06L436.28 77.21L437.79 78.35L437.15 79.38L435.53 78.49L435.42 80.44L434.21 80.44L434.10 78.49L432.48 79.38L431.83 78.35L433.34 77.21L431.83 76.06L432.48 75.03L434.10 75.92ZM440.38 73.97L441.59 73.97L441.70 75.92L443.32 75.03L443.97 76.06L442.46 77.21L443.97 78.35L443.32 79.38L441.70 78.49L441.59 80.44L440.38 80.44L440.27 78.49L438.65 79.38L438.01 78.35L439.52 77.21L438.01 76.06L438.65 75.03L440.27 75.92ZM446.55 73.97L447.77 73.97L447.87 75.92L449.50 75.03L450.14 76.06L448.63 77.21L450.14 78.35L449.50 79.38L447.87 78.49L447.77 80.44L446.55 80.44L446.45 78.49L444.82 79.38L444.18 78.35L445.69 77.21L444.18 76.06L444.82 75.03L446.45 75.92Z" fill="#000"/>
<path d="M460.99 110.05 V62.40 H471.91 V150.43" fill="none" stroke="#000" stroke-width="1.56" stroke-linecap="round"/>
<path d="M456.78 50.77L458.00 50.77L458.10 52.72L459.73 51.83L460.37 52.86L458.86 54.01L460.37 55.15L459.73 56.18L458.10 55.29L458.00 57.24L456.78 57.24L456.68 55.29L455.05 56.18L454.41 55.15L455.92 54.01L454.41 52.86L455.05 51.83L456.68 52.72ZM462.96 50.77L464.17 50.77L464.28 52.72L465.90 51.83L466.54 52.86L465.03 54.01L466.54 55.15L465.90 56.18L464.28 55.29L464.17 57.24L462.96 57.24L462.85 55.29L461.23 56.18L460.58 55.15L462.09 54.01L460.58 52.86L461.23 51.83L462.85 52.72ZM469.13 50.77L470.34 50.77L470.45 52.72L472.07 51.83L472.72 52.86L471.21 54.01L472.72 55.15L472.07 56.18L470.45 55.29L470.34 57.24L469.13 57.24L469.02 55.29L467.40 56.18L466.76 55.15L468.27 54.01L466.76 52.86L467.40 51.83L469.02 52.72ZM475.30 50.77L476.52 50.77L476.62 52.72L478.25 51.83L478.89 52.86L477.38 54.01L478.89 55.15L478.25 56.18L476.62 55.29L476.52 57.24L475.30 57.24L475.20 55.29L473.57 56.18L472.93 55.15L474.44 54.01L472.93 52.86L473.57 51.83L475.20 52.72Z" fill="#000"/>
<path d="M489.74 117.88 V85.30 H500.66 V153.11" fill="none" stroke="#000" stroke-width="1.56" stroke-linecap="round"/>
<path d="M485.53 73.97L486.75 73.97L486.85 75.92L488.48 75.03L489.12 76.06L487.61 77.21L489.12 78.35L488.48 79.38L486.85 78.49L486.75 80.44L485.53 80.44L485.43 78.49L483.80 79.38L483.16 78.35L484.67 77.21L483.16 76.06L483.80 75.03L485.43 75.92ZM491.71 73.97L492.92 73.97L493.03 75.92L494.65 75.03L495.29 76.06L493.78 77.21L495.29 78.35L494.65 79.38L493.03 78.49L492.92 80.44L491.71 80.44L491.60 78.49L489.98 79.38L489.33 78.35L490.84 77.21L489.33 76.06L489.98 75.03L491.60 75.92ZM497.88 73.97L499.09 73.97L499.20 75.92L500.82 75.03L501.47 76.06L499.96 77.21L501.47 78.35L500.82 79.38L499.20 78.49L499.09 80.44L497.88 80.44L497.77 78.49L496.15 79.38L495.51 78.35L497.02 77.21L495.51 76.06L496.15 75.03L497.77 75.92ZM504.05 73.97L505.27 73.97L505.37 75.92L507.00 75.03L507.64 76.06L506.13 77.21L507.64 78.35L507.00 79.38L505.37 78.49L505.27 80.44L504.05 80.44L503.95 78.49L502.32 79.38L501.68 78.35L503.19 77.21L501.68 76.06L502.32 75.03L503.95 75.92Z" fill="#000"/>
<circle cx="374.70" cy="10.70" r="2.73" fill="#000"/>
<circle cx="374.70" cy="28.93" r="2.24" fill="#a0a0a0" stroke="#7c7c7c" stroke-width="0.6"/>
<text x="389.81" y="14.45" font-size="10.53" font-weight="normal" font-style="normal" text-anchor="start" fill="#000" stroke="#000" stroke-width="0.2">TERT+</text>
<text x="389.81" y="32.64" font-size="10.53" font-weight="normal" font-style="normal" text-anchor="start" fill="#000" stroke="#000" stroke-width="0.2">TERT-</text>
<text x="280.10" y="22.20" font-size="16" font-weight="bold" font-style="normal" text-anchor="start" fill="#000" stroke="#000" stroke-width="0.2">B</text>
<text x="281.30" y="158.30" font-size="10.53" font-weight="bold" font-style="normal" text-anchor="middle" fill="#000" transform="rotate(-90 281.30 158.30)" stroke="#000" stroke-width="0.2">NAD<tspan dy="-3.78" font-size="8.19">+</tspan><tspan dy="3.78"> (fmol/cell)</tspan></text>
<rect x="575.20" y="147.63" width="5.20" height="75.17" fill="#fff" stroke="#000000" stroke-width="2.00"/>
<line x1="577.80" y1="131.79" x2="577.80" y2="163.47" stroke="#000000" stroke-width="0.8" stroke-linecap="butt"/>
<line x1="575.80" y1="131.79" x2="579.80" y2="131.79" stroke="#000000" stroke-width="0.8" stroke-linecap="butt"/>
<line x1="575.80" y1="163.47" x2="579.80" y2="163.47" stroke="#000000" stroke-width="0.8" stroke-linecap="butt"/>
<circle cx="577.80" cy="132.60" r="2.65" fill="#000"/>
<circle cx="577.80" cy="146.13" r="2.65" fill="#000"/>
<circle cx="577.80" cy="164.17" r="2.65" fill="#000"/>
<rect x="586.40" y="204.76" width="5.20" height="18.04" fill="#fff" stroke="#848484" stroke-width="2.00"/>
<line x1="589.00" y1="195.74" x2="589.00" y2="213.78" stroke="#848484" stroke-width="0.8" stroke-linecap="butt"/>
<line x1="587.00" y1="195.74" x2="591.00" y2="195.74" stroke="#848484" stroke-width="0.8" stroke-linecap="butt"/>
<line x1="587.00" y1="213.78" x2="591.00" y2="213.78" stroke="#848484" stroke-width="0.8" stroke-linecap="butt"/>
<circle cx="589.00" cy="195.74" r="2.35" fill="#989898" stroke="#7c7c7c" stroke-width="0.6"/>
<circle cx="589.00" cy="204.76" r="2.35" fill="#989898" stroke="#7c7c7c" stroke-width="0.6"/>
<circle cx="589.00" cy="213.78" r="2.35" fill="#989898" stroke="#7c7c7c" stroke-width="0.6"/>
<rect x="604.60" y="140.12" width="5.20" height="82.68" fill="#fff" stroke="#000000" stroke-width="2.00"/>
<line x1="607.20" y1="121.34" x2="607.20" y2="158.89" stroke="#000000" stroke-width="0.8" stroke-linecap="butt"/>
<line x1="605.20" y1="121.34" x2="609.20" y2="121.34" stroke="#000000" stroke-width="0.8" stroke-linecap="butt"/>
<line x1="605.20" y1="158.89" x2="609.20" y2="158.89" stroke="#000000" stroke-width="0.8" stroke-linecap="butt"/>
<circle cx="607.20" cy="119.07" r="2.65" fill="#000"/>
<circle cx="607.20" cy="146.13" r="2.65" fill="#000"/>
<circle cx="607.20" cy="155.15" r="2.65" fill="#000"/>
<rect x="615.80" y="203.26" width="5.20" height="19.54" fill="#fff" stroke="#848484" stroke-width="2.00"/>
<line x1="618.40" y1="196.37" x2="618.40" y2="210.15" stroke="#848484" stroke-width="0.8" stroke-linecap="butt"/>
<line x1="616.40" y1="196.37" x2="620.40" y2="196.37" stroke="#848484" stroke-width="0.8" stroke-linecap="butt"/>
<line x1="616.40" y1="210.15" x2="620.40" y2="210.15" stroke="#848484" stroke-width="0.8" stroke-linecap="butt"/>
<circle cx="618.40" cy="195.74" r="2.35" fill="#989898" stroke="#7c7c7c" stroke-width="0.6"/>
<circle cx="618.40" cy="204.76" r="2.35" fill="#989898" stroke="#7c7c7c" stroke-width="0.6"/>
<circle cx="619.80" cy="209.27" r="2.35" fill="#989898" stroke="#7c7c7c" stroke-width="0.6"/>
<rect x="634.00" y="129.59" width="5.20" height="93.21" fill="#fff" stroke="#000000" stroke-width="2.00"/>
<line x1="636.60" y1="120.21" x2="636.60" y2="138.98" stroke="#000000" stroke-width="0.8" stroke-linecap="butt"/>
<line x1="634.60" y1="120.21" x2="638.60" y2="120.21" stroke="#000000" stroke-width="0.8" stroke-linecap="butt"/>
<line x1="634.60" y1="138.98" x2="638.60" y2="138.98" stroke="#000000" stroke-width="0.8" stroke-linecap="butt"/>
<circle cx="636.60" cy="119.07" r="2.65" fill="#000"/>
<circle cx="636.60" cy="132.60" r="2.65" fill="#000"/>
<circle cx="638.00" cy="137.11" r="2.65" fill="#000"/>
<rect x="645.20" y="198.75" width="5.20" height="24.05" fill="#fff" stroke="#848484" stroke-width="2.00"/>
<line x1="647.80" y1="189.36" x2="647.80" y2="208.13" stroke="#848484" stroke-width="0.8" stroke-linecap="butt"/>
<line x1="645.80" y1="189.36" x2="649.80" y2="189.36" stroke="#848484" stroke-width="0.8" stroke-linecap="butt"/>
<line x1="645.80" y1="208.13" x2="649.80" y2="208.13" stroke="#848484" stroke-width="0.8" stroke-linecap="butt"/>
<circle cx="647.80" cy="191.23" r="2.35" fill="#989898" stroke="#7c7c7c" stroke-width="0.6"/>
<circle cx="649.20" cy="195.74" r="2.35" fill="#989898" stroke="#7c7c7c" stroke-width="0.6"/>
<circle cx="647.80" cy="209.27" r="2.35" fill="#989898" stroke="#7c7c7c" stroke-width="0.6"/>
<rect x="663.40" y="141.62" width="5.20" height="81.18" fill="#fff" stroke="#000000" stroke-width="2.00"/>
<line x1="666.00" y1="129.69" x2="666.00" y2="153.55" stroke="#000000" stroke-width="0.8" stroke-linecap="butt"/>
<line x1="664.00" y1="129.69" x2="668.00" y2="129.69" stroke="#000000" stroke-width="0.8" stroke-linecap="butt"/>
<line x1="664.00" y1="153.55" x2="668.00" y2="153.55" stroke="#000000" stroke-width="0.8" stroke-linecap="butt"/>
<circle cx="666.00" cy="128.09" r="2.65" fill="#000"/>
<circle cx="666.00" cy="146.13" r="2.65" fill="#000"/>
<circle cx="667.40" cy="150.64" r="2.65" fill="#000"/>
<rect x="674.60" y="197.24" width="5.20" height="25.56" fill="#fff" stroke="#848484" stroke-width="2.00"/>
<line x1="677.20" y1="190.35" x2="677.20" y2="204.13" stroke="#848484" stroke-width="0.8" stroke-linecap="butt"/>
<line x1="675.20" y1="190.35" x2="679.20" y2="190.35" stroke="#848484" stroke-width="0.8" stroke-linecap="butt"/>
<line x1="675.20" y1="204.13" x2="679.20" y2="204.13" stroke="#848484" stroke-width="0.8" stroke-linecap="butt"/>
<circle cx="677.20" cy="191.23" r="2.35" fill="#989898" stroke="#7c7c7c" stroke-width="0.6"/>
<circle cx="678.60" cy="195.74" r="2.35" fill="#989898" stroke="#7c7c7c" stroke-width="0.6"/>
<circle cx="677.20" cy="204.76" r="2.35" fill="#989898" stroke="#7c7c7c" stroke-width="0.6"/>
<rect x="692.80" y="140.12" width="5.20" height="82.68" fill="#fff" stroke="#000000" stroke-width="2.00"/>
<line x1="695.40" y1="130.73" x2="695.40" y2="149.50" stroke="#000000" stroke-width="0.8" stroke-linecap="butt"/>
<line x1="693.40" y1="130.73" x2="697.40" y2="130.73" stroke="#000000" stroke-width="0.8" stroke-linecap="butt"/>
<line x1="693.40" y1="149.50" x2="697.40" y2="149.50" stroke="#000000" stroke-width="0.8" stroke-linecap="butt"/>
<circle cx="695.40" cy="132.60" r="2.65" fill="#000"/>
<circle cx="696.80" cy="137.11" r="2.65" fill="#000"/>
<circle cx="695.40" cy="150.64" r="2.65" fill="#000"/>
<rect x="704.00" y="206.26" width="5.20" height="16.54" fill="#fff" stroke="#848484" stroke-width="2.00"/>
<line x1="706.60" y1="199.37" x2="706.60" y2="213.15" stroke="#848484" stroke-width="0.8" stroke-linecap="butt"/>
<line x1="704.60" y1="199.37" x2="708.60" y2="199.37" stroke="#848484" stroke-width="0.8" stroke-linecap="butt"/>
<line x1="704.60" y1="213.15" x2="708.60" y2="213.15" stroke="#848484" stroke-width="0.8" stroke-linecap="butt"/>
<circle cx="706.60" cy="200.25" r="2.35" fill="#989898" stroke="#7c7c7c" stroke-width="0.6"/>
<circle cx="708.00" cy="204.76" r="2.35" fill="#989898" stroke="#7c7c7c" stroke-width="0.6"/>
<circle cx="706.60" cy="213.78" r="2.35" fill="#989898" stroke="#7c7c7c" stroke-width="0.6"/>
<rect x="722.20" y="153.65" width="5.20" height="69.15" fill="#fff" stroke="#000000" stroke-width="2.00"/>
<line x1="724.80" y1="144.26" x2="724.80" y2="163.03" stroke="#000000" stroke-width="0.8" stroke-linecap="butt"/>
<line x1="722.80" y1="144.26" x2="726.80" y2="144.26" stroke="#000000" stroke-width="0.8" stroke-linecap="butt"/>
<line x1="722.80" y1="163.03" x2="726.80" y2="163.03" stroke="#000000" stroke-width="0.8" stroke-linecap="butt"/>
<circle cx="724.80" cy="146.13" r="2.65" fill="#000"/>
<circle cx="726.20" cy="150.64" r="2.65" fill="#000"/>
<circle cx="724.80" cy="164.17" r="2.65" fill="#000"/>
<rect x="733.40" y="194.24" width="5.20" height="28.56" fill="#fff" stroke="#848484" stroke-width="2.00"/>
<line x1="736.00" y1="184.85" x2="736.00" y2="203.62" stroke="#848484" stroke-width="0.8" stroke-linecap="butt"/>
<line x1="734.00" y1="184.85" x2="738.00" y2="184.85" stroke="#848484" stroke-width="0.8" stroke-linecap="butt"/>
<line x1="734.00" y1="203.62" x2="738.00" y2="203.62" stroke="#848484" stroke-width="0.8" stroke-linecap="butt"/>
<circle cx="736.00" cy="186.72" r="2.35" fill="#989898" stroke="#7c7c7c" stroke-width="0.6"/>
<circle cx="737.40" cy="191.23" r="2.35" fill="#989898" stroke="#7c7c7c" stroke-width="0.6"/>
<circle cx="736.00" cy="204.76" r="2.35" fill="#989898" stroke="#7c7c7c" stroke-width="0.6"/>
<rect x="751.60" y="128.09" width="5.20" height="94.71" fill="#fff" stroke="#000000" stroke-width="2.00"/>
<line x1="754.20" y1="111.83" x2="754.20" y2="144.35" stroke="#000000" stroke-width="0.8" stroke-linecap="butt"/>
<line x1="752.20" y1="111.83" x2="756.20" y2="111.83" stroke="#000000" stroke-width="0.8" stroke-linecap="butt"/>
<line x1="752.20" y1="144.35" x2="756.20" y2="144.35" stroke="#000000" stroke-width="0.8" stroke-linecap="butt"/>
<circle cx="754.20" cy="110.05" r="2.65" fill="#000"/>
<circle cx="754.20" cy="132.60" r="2.65" fill="#000"/>
<circle cx="754.20" cy="141.62" r="2.65" fill="#000"/>
<rect x="762.80" y="191.23" width="5.20" height="31.57" fill="#fff" stroke="#848484" stroke-width="2.00"/>
<line x1="765.40" y1="170.56" x2="765.40" y2="211.90" stroke="#848484" stroke-width="0.8" stroke-linecap="butt"/>
<line x1="763.40" y1="170.56" x2="767.40" y2="170.56" stroke="#848484" stroke-width="0.8" stroke-linecap="butt"/>
<line x1="763.40" y1="211.90" x2="767.40" y2="211.90" stroke="#848484" stroke-width="0.8" stroke-linecap="butt"/>
<circle cx="765.40" cy="168.68" r="2.35" fill="#989898" stroke="#7c7c7c" stroke-width="0.6"/>
<circle cx="765.40" cy="195.74" r="2.35" fill="#989898" stroke="#7c7c7c" stroke-width="0.6"/>
<circle cx="765.40" cy="209.27" r="2.35" fill="#989898" stroke="#7c7c7c" stroke-width="0.6"/>
<line x1="570.90" y1="86.70" x2="570.90" y2="223.60" stroke="#000" stroke-width="1.6" stroke-linecap="butt"/>
<line x1="570.10" y1="222.80" x2="772.50" y2="222.80" stroke="#000" stroke-width="1.6" stroke-linecap="butt"/>
<line x1="565.30" y1="222.80" x2="570.90" y2="222.80" stroke="#000" stroke-width="1.6" stroke-linecap="butt"/>
<text x="564.50" y="226.25" font-size="10.4" font-weight="bold" font-style="normal" text-anchor="end" fill="#000" stroke="#000" stroke-width="0.2">0.0</text>
<line x1="565.30" y1="177.70" x2="570.90" y2="177.70" stroke="#000" stroke-width="1.6" stroke-linecap="butt"/>
<text x="564.50" y="181.15" font-size="10.4" font-weight="bold" font-style="normal" text-anchor="end" fill="#000" stroke="#000" stroke-width="0.2">0.1</text>
<line x1="565.30" y1="132.60" x2="570.90" y2="132.60" stroke="#000" stroke-width="1.6" stroke-linecap="butt"/>
<text x="564.50" y="136.05" font-size="10.4" font-weight="bold" font-style="normal" text-anchor="end" fill="#000" stroke="#000" stroke-width="0.2">0.2</text>
<line x1="565.30" y1="87.50" x2="570.90" y2="87.50" stroke="#000" stroke-width="1.6" stroke-linecap="butt"/>
<text x="564.50" y="90.95" font-size="10.4" font-weight="bold" font-style="normal" text-anchor="end" fill="#000" stroke="#000" stroke-width="0.2">0.3</text>
<line x1="583.40" y1="222.80" x2="583.40" y2="228.60" stroke="#000" stroke-width="1.6" stroke-linecap="butt"/>
<text x="586.00" y="236.00" font-size="10.5" font-weight="bold" font-style="normal" text-anchor="end" fill="#000" transform="rotate(-45 586.00 236.00)" stroke="#000" stroke-width="0.2">GBM1</text>
<line x1="612.80" y1="222.80" x2="612.80" y2="228.60" stroke="#000" stroke-width="1.6" stroke-linecap="butt"/>
<text x="615.40" y="236.00" font-size="10.5" font-weight="bold" font-style="normal" text-anchor="end" fill="#000" transform="rotate(-45 615.40 236.00)" stroke="#000" stroke-width="0.2">GBM6</text>
<line x1="642.20" y1="222.80" x2="642.20" y2="228.60" stroke="#000" stroke-width="1.6" stroke-linecap="butt"/>
<text x="644.80" y="236.00" font-size="10.5" font-weight="bold" font-style="normal" text-anchor="end" fill="#000" transform="rotate(-45 644.80 236.00)" stroke="#000" stroke-width="0.2">SF10417</text>
<line x1="671.60" y1="222.80" x2="671.60" y2="228.60" stroke="#000" stroke-width="1.6" stroke-linecap="butt"/>
<text x="674.20" y="236.00" font-size="10.5" font-weight="bold" font-style="normal" text-anchor="end" fill="#000" transform="rotate(-45 674.20 236.00)" stroke="#000" stroke-width="0.2">BT88</text>
<line x1="701.00" y1="222.80" x2="701.00" y2="228.60" stroke="#000" stroke-width="1.6" stroke-linecap="butt"/>
<text x="703.60" y="236.00" font-size="10.5" font-weight="bold" font-style="normal" text-anchor="end" fill="#000" transform="rotate(-45 703.60 236.00)" stroke="#000" stroke-width="0.2">A375</text>
<line x1="730.40" y1="222.80" x2="730.40" y2="228.60" stroke="#000" stroke-width="1.6" stroke-linecap="butt"/>
<text x="733.00" y="236.00" font-size="10.5" font-weight="bold" font-style="normal" text-anchor="end" fill="#000" transform="rotate(-45 733.00 236.00)" stroke="#000" stroke-width="0.2">HepG2</text>
<line x1="759.80" y1="222.80" x2="759.80" y2="228.60" stroke="#000" stroke-width="1.6" stroke-linecap="butt"/>
<text x="762.40" y="236.00" font-size="10.5" font-weight="bold" font-style="normal" text-anchor="end" fill="#000" transform="rotate(-45 762.40 236.00)" stroke="#000" stroke-width="0.2">SK-N-SH</text>
<path d="M577.80 124.19 V94.70 H589.00 V187.69" fill="none" stroke="#000" stroke-width="1.60" stroke-linecap="round"/>
<path d="M574.03 82.86L575.21 82.86L575.31 84.75L576.89 83.89L577.51 84.89L576.05 86.00L577.51 87.11L576.89 88.11L575.31 87.25L575.21 89.14L574.03 89.14L573.93 87.25L572.36 88.11L571.73 87.11L573.20 86.00L571.73 84.89L572.36 83.89L573.93 84.75ZM580.02 82.86L581.20 82.86L581.30 84.75L582.87 83.89L583.50 84.89L582.03 86.00L583.50 87.11L582.87 88.11L581.30 87.25L581.20 89.14L580.02 89.14L579.92 87.25L578.34 88.11L577.72 87.11L579.18 86.00L577.72 84.89L578.34 83.89L579.92 84.75ZM586.00 82.86L587.18 82.86L587.28 84.75L588.86 83.89L589.48 84.89L588.02 86.00L589.48 87.11L588.86 88.11L587.28 87.25L587.18 89.14L586.00 89.14L585.90 87.25L584.33 88.11L583.70 87.11L585.17 86.00L583.70 84.89L584.33 83.89L585.90 84.75ZM591.99 82.86L593.17 82.86L593.27 84.75L594.84 83.89L595.47 84.89L594.00 86.00L595.47 87.11L594.84 88.11L593.27 87.25L593.17 89.14L591.99 89.14L591.89 87.25L590.31 88.11L589.69 87.11L591.15 86.00L589.69 84.89L590.31 83.89L591.89 84.75Z" fill="#000"/>
<path d="M607.20 111.02 V70.10 H618.40 V187.69" fill="none" stroke="#000" stroke-width="1.60" stroke-linecap="round"/>
<path d="M603.43 58.26L604.61 58.26L604.71 60.15L606.29 59.29L606.91 60.29L605.45 61.40L606.91 62.51L606.29 63.51L604.71 62.65L604.61 64.53L603.43 64.53L603.33 62.65L601.76 63.51L601.13 62.51L602.60 61.40L601.13 60.29L601.76 59.29L603.33 60.15ZM609.42 58.26L610.60 58.26L610.70 60.15L612.27 59.29L612.90 60.29L611.43 61.40L612.90 62.51L612.27 63.51L610.70 62.65L610.60 64.53L609.42 64.53L609.32 62.65L607.74 63.51L607.12 62.51L608.58 61.40L607.12 60.29L607.74 59.29L609.32 60.15ZM615.40 58.26L616.58 58.26L616.68 60.15L618.26 59.29L618.88 60.29L617.42 61.40L618.88 62.51L618.26 63.51L616.68 62.65L616.58 64.53L615.40 64.53L615.30 62.65L613.73 63.51L613.10 62.51L614.57 61.40L613.10 60.29L613.73 59.29L615.30 60.15ZM621.39 58.26L622.57 58.26L622.67 60.15L624.24 59.29L624.87 60.29L623.40 61.40L624.87 62.51L624.24 63.51L622.67 62.65L622.57 64.53L621.39 64.53L621.29 62.65L619.71 63.51L619.09 62.51L620.55 61.40L619.09 60.29L619.71 59.29L621.29 60.15Z" fill="#000"/>
<path d="M636.60 111.02 V94.70 H647.80 V181.76" fill="none" stroke="#000" stroke-width="1.60" stroke-linecap="round"/>
<path d="M632.83 82.86L634.01 82.86L634.11 84.75L635.69 83.89L636.31 84.89L634.85 86.00L636.31 87.11L635.69 88.11L634.11 87.25L634.01 89.14L632.83 89.14L632.73 87.25L631.16 88.11L630.53 87.11L632.00 86.00L630.53 84.89L631.16 83.89L632.73 84.75ZM638.82 82.86L640.00 82.86L640.10 84.75L641.67 83.89L642.30 84.89L640.83 86.00L642.30 87.11L641.67 88.11L640.10 87.25L640.00 89.14L638.82 89.14L638.72 87.25L637.14 88.11L636.52 87.11L637.98 86.00L636.52 84.89L637.14 83.89L638.72 84.75ZM644.80 82.86L645.98 82.86L646.08 84.75L647.66 83.89L648.28 84.89L646.82 86.00L648.28 87.11L647.66 88.11L646.08 87.25L645.98 89.14L644.80 89.14L644.70 87.25L643.13 88.11L642.50 87.11L643.97 86.00L642.50 84.89L643.13 83.89L644.70 84.75ZM650.79 82.86L651.97 82.86L652.07 84.75L653.64 83.89L654.27 84.89L652.80 86.00L654.27 87.11L653.64 88.11L652.07 87.25L651.97 89.14L650.79 89.14L650.69 87.25L649.11 88.11L648.49 87.11L649.95 86.00L648.49 84.89L649.11 83.89L650.69 84.75Z" fill="#000"/>
<path d="M666.00 120.04 V94.70 H677.20 V182.75" fill="none" stroke="#000" stroke-width="1.60" stroke-linecap="round"/>
<path d="M665.23 82.86L666.40 82.86L666.51 84.75L668.08 83.89L668.71 84.89L667.24 86.00L668.71 87.11L668.08 88.11L666.51 87.25L666.40 89.14L665.23 89.14L665.12 87.25L663.55 88.11L662.92 87.11L664.39 86.00L662.92 84.89L663.55 83.89L665.12 84.75ZM671.21 82.86L672.39 82.86L672.49 84.75L674.07 83.89L674.69 84.89L673.22 86.00L674.69 87.11L674.07 88.11L672.49 87.25L672.39 89.14L671.21 89.14L671.11 87.25L669.53 88.11L668.91 87.11L670.38 86.00L668.91 84.89L669.53 83.89L671.11 84.75ZM677.20 82.86L678.37 82.86L678.48 84.75L680.05 83.89L680.68 84.89L679.21 86.00L680.68 87.11L680.05 88.11L678.48 87.25L678.37 89.14L677.20 89.14L677.09 87.25L675.52 88.11L674.89 87.11L676.36 86.00L674.89 84.89L675.52 83.89L677.09 84.75Z" fill="#000"/>
<path d="M695.40 123.13 V94.70 H706.60 V191.77" fill="none" stroke="#000" stroke-width="1.60" stroke-linecap="round"/>
<path d="M691.63 82.86L692.81 82.86L692.91 84.75L694.49 83.89L695.11 84.89L693.65 86.00L695.11 87.11L694.49 88.11L692.91 87.25L692.81 89.14L691.63 89.14L691.53 87.25L689.96 88.11L689.33 87.11L690.80 86.00L689.33 84.89L689.96 83.89L691.53 84.75ZM697.62 82.86L698.80 82.86L698.90 84.75L700.47 83.89L701.10 84.89L699.63 86.00L701.10 87.11L700.47 88.11L698.90 87.25L698.80 89.14L697.62 89.14L697.52 87.25L695.94 88.11L695.32 87.11L696.78 86.00L695.32 84.89L695.94 83.89L697.52 84.75ZM703.60 82.86L704.78 82.86L704.88 84.75L706.46 83.89L707.08 84.89L705.62 86.00L707.08 87.11L706.46 88.11L704.88 87.25L704.78 89.14L703.60 89.14L703.50 87.25L701.93 88.11L701.30 87.11L702.77 86.00L701.30 84.89L701.93 83.89L703.50 84.75ZM709.59 82.86L710.77 82.86L710.87 84.75L712.44 83.89L713.07 84.89L711.60 86.00L713.07 87.11L712.44 88.11L710.87 87.25L710.77 89.14L709.59 89.14L709.49 87.25L707.91 88.11L707.29 87.11L708.75 86.00L707.29 84.89L707.91 83.89L709.49 84.75Z" fill="#000"/>
<path d="M724.80 136.66 V94.70 H736.00 V177.25" fill="none" stroke="#000" stroke-width="1.60" stroke-linecap="round"/>
<path d="M727.02 82.86L728.20 82.86L728.30 84.75L729.87 83.89L730.50 84.89L729.03 86.00L730.50 87.11L729.87 88.11L728.30 87.25L728.20 89.14L727.02 89.14L726.92 87.25L725.34 88.11L724.72 87.11L726.18 86.00L724.72 84.89L725.34 83.89L726.92 84.75ZM733.00 82.86L734.18 82.86L734.28 84.75L735.86 83.89L736.48 84.89L735.02 86.00L736.48 87.11L735.86 88.11L734.28 87.25L734.18 89.14L733.00 89.14L732.90 87.25L731.33 88.11L730.70 87.11L732.17 86.00L730.70 84.89L731.33 83.89L732.90 84.75Z" fill="#000"/>
<path d="M754.20 102.00 V94.70 H765.40 V160.63" fill="none" stroke="#000" stroke-width="1.60" stroke-linecap="round"/>
<path d="M750.43 82.86L751.61 82.86L751.71 84.75L753.29 83.89L753.91 84.89L752.45 86.00L753.91 87.11L753.29 88.11L751.71 87.25L751.61 89.14L750.43 89.14L750.33 87.25L748.76 88.11L748.13 87.11L749.60 86.00L748.13 84.89L748.76 83.89L750.33 84.75ZM756.42 82.86L757.60 82.86L757.70 84.75L759.27 83.89L759.90 84.89L758.43 86.00L759.90 87.11L759.27 88.11L757.70 87.25L757.60 89.14L756.42 89.14L756.32 87.25L754.74 88.11L754.12 87.11L755.58 86.00L754.12 84.89L754.74 83.89L756.32 84.75ZM762.40 82.86L763.58 82.86L763.68 84.75L765.26 83.89L765.88 84.89L764.42 86.00L765.88 87.11L765.26 88.11L763.68 87.25L763.58 89.14L762.40 89.14L762.30 87.25L760.73 88.11L760.10 87.11L761.57 86.00L760.10 84.89L760.73 83.89L762.30 84.75ZM768.39 82.86L769.57 82.86L769.67 84.75L771.24 83.89L771.87 84.89L770.40 86.00L771.87 87.11L771.24 88.11L769.67 87.25L769.57 89.14L768.39 89.14L768.29 87.25L766.71 88.11L766.09 87.11L767.55 86.00L766.09 84.89L766.71 83.89L768.29 84.75Z" fill="#000"/>
<circle cx="637.00" cy="11.10" r="2.80" fill="#000"/>
<circle cx="637.00" cy="29.80" r="2.30" fill="#a0a0a0" stroke="#7c7c7c" stroke-width="0.6"/>
<text x="652.50" y="14.95" font-size="10.8" font-weight="normal" font-style="normal" text-anchor="start" fill="#000" stroke="#000" stroke-width="0.2">TERT+</text>
<text x="652.50" y="33.60" font-size="10.8" font-weight="normal" font-style="normal" text-anchor="start" fill="#000" stroke="#000" stroke-width="0.2">TERT-</text>
<text x="537.50" y="22.30" font-size="16" font-weight="bold" font-style="normal" text-anchor="start" fill="#000" stroke="#000" stroke-width="0.2">C</text>
<text x="540.90" y="155.50" font-size="10.8" font-weight="bold" font-style="normal" text-anchor="middle" fill="#000" transform="rotate(-90 540.90 155.50)" stroke="#000" stroke-width="0.2">NADH/NAD<tspan dy="-3.89" font-size="8.42">+</tspan></text>
<rect x="64.90" y="463.46" width="5.20" height="80.94" fill="#fff" stroke="#000000" stroke-width="2.00"/>
<line x1="67.50" y1="455.04" x2="67.50" y2="471.89" stroke="#000000" stroke-width="0.8" stroke-linecap="butt"/>
<line x1="65.50" y1="455.04" x2="69.50" y2="455.04" stroke="#000000" stroke-width="0.8" stroke-linecap="butt"/>
<line x1="65.50" y1="471.89" x2="69.50" y2="471.89" stroke="#000000" stroke-width="0.8" stroke-linecap="butt"/>
<circle cx="67.50" cy="455.96" r="2.65" fill="#000"/>
<circle cx="67.50" cy="461.86" r="2.65" fill="#000"/>
<circle cx="67.50" cy="472.58" r="2.65" fill="#000"/>
<rect x="76.10" y="504.38" width="5.20" height="40.02" fill="#fff" stroke="#848484" stroke-width="2.00"/>
<line x1="78.70" y1="498.60" x2="78.70" y2="510.16" stroke="#848484" stroke-width="0.8" stroke-linecap="butt"/>
<line x1="76.70" y1="498.60" x2="80.70" y2="498.60" stroke="#848484" stroke-width="0.8" stroke-linecap="butt"/>
<line x1="76.70" y1="510.16" x2="80.70" y2="510.16" stroke="#848484" stroke-width="0.8" stroke-linecap="butt"/>
<circle cx="78.70" cy="497.77" r="2.35" fill="#989898" stroke="#7c7c7c" stroke-width="0.6"/>
<circle cx="78.70" cy="506.88" r="2.35" fill="#989898" stroke="#7c7c7c" stroke-width="0.6"/>
<circle cx="80.10" cy="508.49" r="2.35" fill="#989898" stroke="#7c7c7c" stroke-width="0.6"/>
<rect x="94.35" y="439.34" width="5.20" height="105.06" fill="#fff" stroke="#000000" stroke-width="2.00"/>
<line x1="96.95" y1="434.43" x2="96.95" y2="444.26" stroke="#000000" stroke-width="0.8" stroke-linecap="butt"/>
<line x1="94.95" y1="434.43" x2="98.95" y2="434.43" stroke="#000000" stroke-width="0.8" stroke-linecap="butt"/>
<line x1="94.95" y1="444.26" x2="98.95" y2="444.26" stroke="#000000" stroke-width="0.8" stroke-linecap="butt"/>
<circle cx="96.95" cy="433.98" r="2.65" fill="#000"/>
<circle cx="96.95" cy="440.42" r="2.65" fill="#000"/>
<circle cx="98.35" cy="443.63" r="2.65" fill="#000"/>
<rect x="105.55" y="478.56" width="5.20" height="65.84" fill="#fff" stroke="#848484" stroke-width="2.00"/>
<line x1="108.15" y1="471.98" x2="108.15" y2="485.14" stroke="#848484" stroke-width="0.8" stroke-linecap="butt"/>
<line x1="106.15" y1="471.98" x2="110.15" y2="471.98" stroke="#848484" stroke-width="0.8" stroke-linecap="butt"/>
<line x1="106.15" y1="485.14" x2="110.15" y2="485.14" stroke="#848484" stroke-width="0.8" stroke-linecap="butt"/>
<circle cx="108.15" cy="471.77" r="2.35" fill="#989898" stroke="#7c7c7c" stroke-width="0.6"/>
<circle cx="108.15" cy="479.01" r="2.35" fill="#989898" stroke="#7c7c7c" stroke-width="0.6"/>
<circle cx="108.15" cy="484.90" r="2.35" fill="#989898" stroke="#7c7c7c" stroke-width="0.6"/>
<rect x="123.80" y="435.23" width="5.20" height="109.17" fill="#fff" stroke="#000000" stroke-width="2.00"/>
<line x1="126.40" y1="426.75" x2="126.40" y2="443.72" stroke="#000000" stroke-width="0.8" stroke-linecap="butt"/>
<line x1="124.40" y1="426.75" x2="128.40" y2="426.75" stroke="#000000" stroke-width="0.8" stroke-linecap="butt"/>
<line x1="124.40" y1="443.72" x2="128.40" y2="443.72" stroke="#000000" stroke-width="0.8" stroke-linecap="butt"/>
<circle cx="126.40" cy="425.94" r="2.65" fill="#000"/>
<circle cx="126.40" cy="437.20" r="2.65" fill="#000"/>
<circle cx="126.40" cy="442.56" r="2.65" fill="#000"/>
<rect x="135.00" y="480.97" width="5.20" height="63.43" fill="#fff" stroke="#848484" stroke-width="2.00"/>
<line x1="137.60" y1="473.98" x2="137.60" y2="487.97" stroke="#848484" stroke-width="0.8" stroke-linecap="butt"/>
<line x1="135.60" y1="473.98" x2="139.60" y2="473.98" stroke="#848484" stroke-width="0.8" stroke-linecap="butt"/>
<line x1="135.60" y1="487.97" x2="139.60" y2="487.97" stroke="#848484" stroke-width="0.8" stroke-linecap="butt"/>
<circle cx="137.60" cy="473.65" r="2.35" fill="#989898" stroke="#7c7c7c" stroke-width="0.6"/>
<circle cx="137.60" cy="481.69" r="2.35" fill="#989898" stroke="#7c7c7c" stroke-width="0.6"/>
<circle cx="137.60" cy="487.58" r="2.35" fill="#989898" stroke="#7c7c7c" stroke-width="0.6"/>
<rect x="153.25" y="450.06" width="5.20" height="94.34" fill="#fff" stroke="#000000" stroke-width="2.00"/>
<line x1="155.85" y1="443.35" x2="155.85" y2="456.78" stroke="#000000" stroke-width="0.8" stroke-linecap="butt"/>
<line x1="153.85" y1="443.35" x2="157.85" y2="443.35" stroke="#000000" stroke-width="0.8" stroke-linecap="butt"/>
<line x1="153.85" y1="456.78" x2="157.85" y2="456.78" stroke="#000000" stroke-width="0.8" stroke-linecap="butt"/>
<circle cx="155.85" cy="443.10" r="2.65" fill="#000"/>
<circle cx="155.85" cy="450.60" r="2.65" fill="#000"/>
<circle cx="155.85" cy="456.50" r="2.65" fill="#000"/>
<rect x="164.45" y="498.66" width="5.20" height="45.74" fill="#fff" stroke="#848484" stroke-width="2.00"/>
<line x1="167.05" y1="491.87" x2="167.05" y2="505.45" stroke="#848484" stroke-width="0.8" stroke-linecap="butt"/>
<line x1="165.05" y1="491.87" x2="169.05" y2="491.87" stroke="#848484" stroke-width="0.8" stroke-linecap="butt"/>
<line x1="165.05" y1="505.45" x2="169.05" y2="505.45" stroke="#848484" stroke-width="0.8" stroke-linecap="butt"/>
<circle cx="167.05" cy="491.34" r="2.35" fill="#989898" stroke="#7c7c7c" stroke-width="0.6"/>
<circle cx="167.05" cy="499.91" r="2.35" fill="#989898" stroke="#7c7c7c" stroke-width="0.6"/>
<circle cx="167.05" cy="504.74" r="2.35" fill="#989898" stroke="#7c7c7c" stroke-width="0.6"/>
<rect x="182.70" y="443.45" width="5.20" height="100.95" fill="#fff" stroke="#000000" stroke-width="2.00"/>
<line x1="185.30" y1="440.18" x2="185.30" y2="446.73" stroke="#000000" stroke-width="0.8" stroke-linecap="butt"/>
<line x1="183.30" y1="440.18" x2="187.30" y2="440.18" stroke="#000000" stroke-width="0.8" stroke-linecap="butt"/>
<line x1="183.30" y1="446.73" x2="187.30" y2="446.73" stroke="#000000" stroke-width="0.8" stroke-linecap="butt"/>
<circle cx="185.30" cy="439.88" r="2.65" fill="#000"/>
<circle cx="186.70" cy="444.17" r="2.65" fill="#000"/>
<circle cx="183.90" cy="446.31" r="2.65" fill="#000"/>
<rect x="193.90" y="497.59" width="5.20" height="46.81" fill="#fff" stroke="#848484" stroke-width="2.00"/>
<line x1="196.50" y1="490.59" x2="196.50" y2="504.58" stroke="#848484" stroke-width="0.8" stroke-linecap="butt"/>
<line x1="194.50" y1="490.59" x2="198.50" y2="490.59" stroke="#848484" stroke-width="0.8" stroke-linecap="butt"/>
<line x1="194.50" y1="504.58" x2="198.50" y2="504.58" stroke="#848484" stroke-width="0.8" stroke-linecap="butt"/>
<circle cx="196.50" cy="490.26" r="2.35" fill="#989898" stroke="#7c7c7c" stroke-width="0.6"/>
<circle cx="196.50" cy="498.30" r="2.35" fill="#989898" stroke="#7c7c7c" stroke-width="0.6"/>
<circle cx="196.50" cy="504.20" r="2.35" fill="#989898" stroke="#7c7c7c" stroke-width="0.6"/>
<rect x="212.15" y="445.24" width="5.20" height="99.16" fill="#fff" stroke="#000000" stroke-width="2.00"/>
<line x1="214.75" y1="437.99" x2="214.75" y2="452.49" stroke="#000000" stroke-width="0.8" stroke-linecap="butt"/>
<line x1="212.75" y1="437.99" x2="216.75" y2="437.99" stroke="#000000" stroke-width="0.8" stroke-linecap="butt"/>
<line x1="212.75" y1="452.49" x2="216.75" y2="452.49" stroke="#000000" stroke-width="0.8" stroke-linecap="butt"/>
<circle cx="214.75" cy="437.74" r="2.65" fill="#000"/>
<circle cx="214.75" cy="445.78" r="2.65" fill="#000"/>
<circle cx="214.75" cy="452.21" r="2.65" fill="#000"/>
<rect x="223.35" y="489.37" width="5.20" height="55.03" fill="#fff" stroke="#848484" stroke-width="2.00"/>
<line x1="225.95" y1="477.81" x2="225.95" y2="500.93" stroke="#848484" stroke-width="0.8" stroke-linecap="butt"/>
<line x1="223.95" y1="477.81" x2="227.95" y2="477.81" stroke="#848484" stroke-width="0.8" stroke-linecap="butt"/>
<line x1="223.95" y1="500.93" x2="227.95" y2="500.93" stroke="#848484" stroke-width="0.8" stroke-linecap="butt"/>
<circle cx="225.95" cy="481.15" r="2.35" fill="#989898" stroke="#7c7c7c" stroke-width="0.6"/>
<circle cx="227.35" cy="484.37" r="2.35" fill="#989898" stroke="#7c7c7c" stroke-width="0.6"/>
<circle cx="225.95" cy="502.59" r="2.35" fill="#989898" stroke="#7c7c7c" stroke-width="0.6"/>
<rect x="241.60" y="450.06" width="5.20" height="94.34" fill="#fff" stroke="#000000" stroke-width="2.00"/>
<line x1="244.20" y1="446.31" x2="244.20" y2="453.82" stroke="#000000" stroke-width="0.8" stroke-linecap="butt"/>
<line x1="242.20" y1="446.31" x2="246.20" y2="446.31" stroke="#000000" stroke-width="0.8" stroke-linecap="butt"/>
<line x1="242.20" y1="453.82" x2="246.20" y2="453.82" stroke="#000000" stroke-width="0.8" stroke-linecap="butt"/>
<circle cx="244.20" cy="446.31" r="2.65" fill="#000"/>
<circle cx="245.60" cy="450.06" r="2.65" fill="#000"/>
<circle cx="242.80" cy="453.82" r="2.65" fill="#000"/>
<rect x="252.80" y="484.90" width="5.20" height="59.50" fill="#fff" stroke="#848484" stroke-width="2.00"/>
<line x1="255.40" y1="477.30" x2="255.40" y2="492.50" stroke="#848484" stroke-width="0.8" stroke-linecap="butt"/>
<line x1="253.40" y1="477.30" x2="257.40" y2="477.30" stroke="#848484" stroke-width="0.8" stroke-linecap="butt"/>
<line x1="253.40" y1="492.50" x2="257.40" y2="492.50" stroke="#848484" stroke-width="0.8" stroke-linecap="butt"/>
<circle cx="255.40" cy="479.01" r="2.35" fill="#989898" stroke="#7c7c7c" stroke-width="0.6"/>
<circle cx="256.80" cy="482.22" r="2.35" fill="#989898" stroke="#7c7c7c" stroke-width="0.6"/>
<circle cx="255.40" cy="493.48" r="2.35" fill="#989898" stroke="#7c7c7c" stroke-width="0.6"/>
<line x1="60.30" y1="409.60" x2="60.30" y2="545.20" stroke="#000" stroke-width="1.6" stroke-linecap="butt"/>
<line x1="59.50" y1="544.40" x2="262.50" y2="544.40" stroke="#000" stroke-width="1.6" stroke-linecap="butt"/>
<line x1="54.70" y1="544.40" x2="60.30" y2="544.40" stroke="#000" stroke-width="1.6" stroke-linecap="butt"/>
<text x="53.90" y="547.85" font-size="10.4" font-weight="bold" font-style="normal" text-anchor="end" fill="#000" stroke="#000" stroke-width="0.2">0.0</text>
<line x1="54.70" y1="517.60" x2="60.30" y2="517.60" stroke="#000" stroke-width="1.6" stroke-linecap="butt"/>
<text x="53.90" y="521.05" font-size="10.4" font-weight="bold" font-style="normal" text-anchor="end" fill="#000" stroke="#000" stroke-width="0.2">0.5</text>
<line x1="54.70" y1="490.80" x2="60.30" y2="490.80" stroke="#000" stroke-width="1.6" stroke-linecap="butt"/>
<text x="53.90" y="494.25" font-size="10.4" font-weight="bold" font-style="normal" text-anchor="end" fill="#000" stroke="#000" stroke-width="0.2">1.0</text>
<line x1="54.70" y1="464.00" x2="60.30" y2="464.00" stroke="#000" stroke-width="1.6" stroke-linecap="butt"/>
<text x="53.90" y="467.45" font-size="10.4" font-weight="bold" font-style="normal" text-anchor="end" fill="#000" stroke="#000" stroke-width="0.2">1.5</text>
<line x1="54.70" y1="437.20" x2="60.30" y2="437.20" stroke="#000" stroke-width="1.6" stroke-linecap="butt"/>
<text x="53.90" y="440.65" font-size="10.4" font-weight="bold" font-style="normal" text-anchor="end" fill="#000" stroke="#000" stroke-width="0.2">2.0</text>
<line x1="54.70" y1="410.40" x2="60.30" y2="410.40" stroke="#000" stroke-width="1.6" stroke-linecap="butt"/>
<text x="53.90" y="413.85" font-size="10.4" font-weight="bold" font-style="normal" text-anchor="end" fill="#000" stroke="#000" stroke-width="0.2">2.5</text>
<line x1="73.10" y1="544.40" x2="73.10" y2="550.20" stroke="#000" stroke-width="1.6" stroke-linecap="butt"/>
<text x="75.70" y="557.60" font-size="10.5" font-weight="bold" font-style="normal" text-anchor="end" fill="#000" transform="rotate(-45 75.70 557.60)" stroke="#000" stroke-width="0.2">GBM1</text>
<line x1="102.55" y1="544.40" x2="102.55" y2="550.20" stroke="#000" stroke-width="1.6" stroke-linecap="butt"/>
<text x="105.15" y="557.60" font-size="10.5" font-weight="bold" font-style="normal" text-anchor="end" fill="#000" transform="rotate(-45 105.15 557.60)" stroke="#000" stroke-width="0.2">GBM6</text>
<line x1="132.00" y1="544.40" x2="132.00" y2="550.20" stroke="#000" stroke-width="1.6" stroke-linecap="butt"/>
<text x="134.60" y="557.60" font-size="10.5" font-weight="bold" font-style="normal" text-anchor="end" fill="#000" transform="rotate(-45 134.60 557.60)" stroke="#000" stroke-width="0.2">SF10417</text>
<line x1="161.45" y1="544.40" x2="161.45" y2="550.20" stroke="#000" stroke-width="1.6" stroke-linecap="butt"/>
<text x="164.05" y="557.60" font-size="10.5" font-weight="bold" font-style="normal" text-anchor="end" fill="#000" transform="rotate(-45 164.05 557.60)" stroke="#000" stroke-width="0.2">BT88</text>
<line x1="190.90" y1="544.40" x2="190.90" y2="550.20" stroke="#000" stroke-width="1.6" stroke-linecap="butt"/>
<text x="193.50" y="557.60" font-size="10.5" font-weight="bold" font-style="normal" text-anchor="end" fill="#000" transform="rotate(-45 193.50 557.60)" stroke="#000" stroke-width="0.2">A375</text>
<line x1="220.35" y1="544.40" x2="220.35" y2="550.20" stroke="#000" stroke-width="1.6" stroke-linecap="butt"/>
<text x="222.95" y="557.60" font-size="10.5" font-weight="bold" font-style="normal" text-anchor="end" fill="#000" transform="rotate(-45 222.95 557.60)" stroke="#000" stroke-width="0.2">HepG2</text>
<line x1="249.80" y1="544.40" x2="249.80" y2="550.20" stroke="#000" stroke-width="1.6" stroke-linecap="butt"/>
<text x="252.40" y="557.60" font-size="10.5" font-weight="bold" font-style="normal" text-anchor="end" fill="#000" transform="rotate(-45 252.40 557.60)" stroke="#000" stroke-width="0.2">SK-N-SH</text>
<path d="M67.50 447.44 V410.10 H78.70 V489.72" fill="none" stroke="#000" stroke-width="1.60" stroke-linecap="round"/>
<path d="M63.23 398.50L64.47 398.50L64.58 400.49L66.24 399.58L66.89 400.63L65.35 401.80L66.89 402.97L66.24 404.02L64.58 403.11L64.47 405.10L63.23 405.10L63.12 403.11L61.46 404.02L60.81 402.97L62.35 401.80L60.81 400.63L61.46 399.58L63.12 400.49ZM69.53 398.50L70.77 398.50L70.88 400.49L72.54 399.58L73.19 400.63L71.65 401.80L73.19 402.97L72.54 404.02L70.88 403.11L70.77 405.10L69.53 405.10L69.42 403.11L67.76 404.02L67.11 402.97L68.65 401.80L67.11 400.63L67.76 399.58L69.42 400.49ZM75.83 398.50L77.07 398.50L77.18 400.49L78.84 399.58L79.49 400.63L77.95 401.80L79.49 402.97L78.84 404.02L77.18 403.11L77.07 405.10L75.83 405.10L75.72 403.11L74.06 404.02L73.41 402.97L74.95 401.80L73.41 400.63L74.06 399.58L75.72 400.49ZM82.13 398.50L83.37 398.50L83.48 400.49L85.14 399.58L85.79 400.63L84.25 401.80L85.79 402.97L85.14 404.02L83.48 403.11L83.37 405.10L82.13 405.10L82.02 403.11L80.36 404.02L79.71 402.97L81.25 401.80L79.71 400.63L80.36 399.58L82.02 400.49Z" fill="#000"/>
<path d="M96.95 425.93 V385.70 H108.15 V463.72" fill="none" stroke="#000" stroke-width="1.60" stroke-linecap="round"/>
<path d="M92.68 374.10L93.92 374.10L94.03 376.09L95.69 375.18L96.34 376.23L94.80 377.40L96.34 378.57L95.69 379.62L94.03 378.71L93.92 380.70L92.68 380.70L92.57 378.71L90.91 379.62L90.26 378.57L91.80 377.40L90.26 376.23L90.91 375.18L92.57 376.09ZM98.98 374.10L100.22 374.10L100.33 376.09L101.99 375.18L102.64 376.23L101.10 377.40L102.64 378.57L101.99 379.62L100.33 378.71L100.22 380.70L98.98 380.70L98.87 378.71L97.21 379.62L96.56 378.57L98.10 377.40L96.56 376.23L97.21 375.18L98.87 376.09ZM105.28 374.10L106.52 374.10L106.63 376.09L108.29 375.18L108.94 376.23L107.40 377.40L108.94 378.57L108.29 379.62L106.63 378.71L106.52 380.70L105.28 380.70L105.17 378.71L103.51 379.62L102.86 378.57L104.40 377.40L102.86 376.23L103.51 375.18L105.17 376.09ZM111.58 374.10L112.82 374.10L112.93 376.09L114.59 375.18L115.24 376.23L113.70 377.40L115.24 378.57L114.59 379.62L112.93 378.71L112.82 380.70L111.58 380.70L111.47 378.71L109.81 379.62L109.16 378.57L110.70 377.40L109.16 376.23L109.81 375.18L111.47 376.09Z" fill="#000"/>
<path d="M126.40 417.89 V410.10 H137.60 V465.60" fill="none" stroke="#000" stroke-width="1.60" stroke-linecap="round"/>
<path d="M122.13 398.50L123.37 398.50L123.48 400.49L125.14 399.58L125.79 400.63L124.25 401.80L125.79 402.97L125.14 404.02L123.48 403.11L123.37 405.10L122.13 405.10L122.02 403.11L120.36 404.02L119.71 402.97L121.25 401.80L119.71 400.63L120.36 399.58L122.02 400.49ZM128.43 398.50L129.67 398.50L129.78 400.49L131.44 399.58L132.09 400.63L130.55 401.80L132.09 402.97L131.44 404.02L129.78 403.11L129.67 405.10L128.43 405.10L128.32 403.11L126.66 404.02L126.01 402.97L127.55 401.80L126.01 400.63L126.66 399.58L128.32 400.49ZM134.73 398.50L135.97 398.50L136.08 400.49L137.74 399.58L138.39 400.63L136.85 401.80L138.39 402.97L137.74 404.02L136.08 403.11L135.97 405.10L134.73 405.10L134.62 403.11L132.96 404.02L132.31 402.97L133.85 401.80L132.31 400.63L132.96 399.58L134.62 400.49ZM141.03 398.50L142.27 398.50L142.38 400.49L144.04 399.58L144.69 400.63L143.15 401.80L144.69 402.97L144.04 404.02L142.38 403.11L142.27 405.10L141.03 405.10L140.92 403.11L139.26 404.02L138.61 402.97L140.15 401.80L138.61 400.63L139.26 399.58L140.92 400.49Z" fill="#000"/>
<path d="M155.85 435.05 V385.70 H167.05 V483.29" fill="none" stroke="#000" stroke-width="1.60" stroke-linecap="round"/>
<path d="M151.58 374.10L152.82 374.10L152.93 376.09L154.59 375.18L155.24 376.23L153.70 377.40L155.24 378.57L154.59 379.62L152.93 378.71L152.82 380.70L151.58 380.70L151.47 378.71L149.81 379.62L149.16 378.57L150.70 377.40L149.16 376.23L149.81 375.18L151.47 376.09ZM157.88 374.10L159.12 374.10L159.23 376.09L160.89 375.18L161.54 376.23L160.00 377.40L161.54 378.57L160.89 379.62L159.23 378.71L159.12 380.70L157.88 380.70L157.77 378.71L156.11 379.62L155.46 378.57L157.00 377.40L155.46 376.23L156.11 375.18L157.77 376.09ZM164.18 374.10L165.42 374.10L165.53 376.09L167.19 375.18L167.84 376.23L166.30 377.40L167.84 378.57L167.19 379.62L165.53 378.71L165.42 380.70L164.18 380.70L164.07 378.71L162.41 379.62L161.76 378.57L163.30 377.40L161.76 376.23L162.41 375.18L164.07 376.09ZM170.48 374.10L171.72 374.10L171.83 376.09L173.49 375.18L174.14 376.23L172.60 377.40L174.14 378.57L173.49 379.62L171.83 378.71L171.72 380.70L170.48 380.70L170.37 378.71L168.71 379.62L168.06 378.57L169.60 377.40L168.06 376.23L168.71 375.18L170.37 376.09Z" fill="#000"/>
<path d="M185.30 431.83 V410.10 H196.50 V482.21" fill="none" stroke="#000" stroke-width="1.60" stroke-linecap="round"/>
<path d="M181.03 398.50L182.27 398.50L182.38 400.49L184.04 399.58L184.69 400.63L183.15 401.80L184.69 402.97L184.04 404.02L182.38 403.11L182.27 405.10L181.03 405.10L180.92 403.11L179.26 404.02L178.61 402.97L180.15 401.80L178.61 400.63L179.26 399.58L180.92 400.49ZM187.33 398.50L188.57 398.50L188.68 400.49L190.34 399.58L190.99 400.63L189.45 401.80L190.99 402.97L190.34 404.02L188.68 403.11L188.57 405.10L187.33 405.10L187.22 403.11L185.56 404.02L184.91 402.97L186.45 401.80L184.91 400.63L185.56 399.58L187.22 400.49ZM193.63 398.50L194.87 398.50L194.98 400.49L196.64 399.58L197.29 400.63L195.75 401.80L197.29 402.97L196.64 404.02L194.98 403.11L194.87 405.10L193.63 405.10L193.52 403.11L191.86 404.02L191.21 402.97L192.75 401.80L191.21 400.63L191.86 399.58L193.52 400.49ZM199.93 398.50L201.17 398.50L201.28 400.49L202.94 399.58L203.59 400.63L202.05 401.80L203.59 402.97L202.94 404.02L201.28 403.11L201.17 405.10L199.93 405.10L199.82 403.11L198.16 404.02L197.51 402.97L199.05 401.80L197.51 400.63L198.16 399.58L199.82 400.49Z" fill="#000"/>
<path d="M214.75 429.69 V385.70 H225.95 V470.21" fill="none" stroke="#000" stroke-width="1.60" stroke-linecap="round"/>
<path d="M210.48 374.10L211.72 374.10L211.83 376.09L213.49 375.18L214.14 376.23L212.60 377.40L214.14 378.57L213.49 379.62L211.83 378.71L211.72 380.70L210.48 380.70L210.37 378.71L208.71 379.62L208.06 378.57L209.60 377.40L208.06 376.23L208.71 375.18L210.37 376.09ZM216.78 374.10L218.02 374.10L218.13 376.09L219.79 375.18L220.44 376.23L218.90 377.40L220.44 378.57L219.79 379.62L218.13 378.71L218.02 380.70L216.78 380.70L216.67 378.71L215.01 379.62L214.36 378.57L215.90 377.40L214.36 376.23L215.01 375.18L216.67 376.09ZM223.08 374.10L224.32 374.10L224.43 376.09L226.09 375.18L226.74 376.23L225.20 377.40L226.74 378.57L226.09 379.62L224.43 378.71L224.32 380.70L223.08 380.70L222.97 378.71L221.31 379.62L220.66 378.57L222.20 377.40L220.66 376.23L221.31 375.18L222.97 376.09ZM229.38 374.10L230.62 374.10L230.73 376.09L232.39 375.18L233.04 376.23L231.50 377.40L233.04 378.57L232.39 379.62L230.73 378.71L230.62 380.70L229.38 380.70L229.27 378.71L227.61 379.62L226.96 378.57L228.50 377.40L226.96 376.23L227.61 375.18L229.27 376.09Z" fill="#000"/>
<path d="M244.20 438.26 V410.10 H255.40 V469.70" fill="none" stroke="#000" stroke-width="1.60" stroke-linecap="round"/>
<path d="M239.93 398.50L241.17 398.50L241.28 400.49L242.94 399.58L243.59 400.63L242.05 401.80L243.59 402.97L242.94 404.02L241.28 403.11L241.17 405.10L239.93 405.10L239.82 403.11L238.16 404.02L237.51 402.97L239.05 401.80L237.51 400.63L238.16 399.58L239.82 400.49ZM246.23 398.50L247.47 398.50L247.58 400.49L249.24 399.58L249.89 400.63L248.35 401.80L249.89 402.97L249.24 404.02L247.58 403.11L247.47 405.10L246.23 405.10L246.12 403.11L244.46 404.02L243.81 402.97L245.35 401.80L243.81 400.63L244.46 399.58L246.12 400.49ZM252.53 398.50L253.77 398.50L253.88 400.49L255.54 399.58L256.19 400.63L254.65 401.80L256.19 402.97L255.54 404.02L253.88 403.11L253.77 405.10L252.53 405.10L252.42 403.11L250.76 404.02L250.11 402.97L251.65 401.80L250.11 400.63L250.76 399.58L252.42 400.49ZM258.83 398.50L260.07 398.50L260.18 400.49L261.84 399.58L262.49 400.63L260.95 401.80L262.49 402.97L261.84 404.02L260.18 403.11L260.07 405.10L258.83 405.10L258.72 403.11L257.06 404.02L256.41 402.97L257.95 401.80L256.41 400.63L257.06 399.58L258.72 400.49Z" fill="#000"/>
<circle cx="123.30" cy="333.20" r="2.80" fill="#000"/>
<circle cx="123.30" cy="351.90" r="2.30" fill="#a0a0a0" stroke="#7c7c7c" stroke-width="0.6"/>
<text x="138.80" y="337.05" font-size="10.8" font-weight="normal" font-style="normal" text-anchor="start" fill="#000" stroke="#000" stroke-width="0.2">TERT+</text>
<text x="138.80" y="355.70" font-size="10.8" font-weight="normal" font-style="normal" text-anchor="start" fill="#000" stroke="#000" stroke-width="0.2">TERT-</text>
<text x="10.80" y="343.20" font-size="16" font-weight="bold" font-style="normal" text-anchor="start" fill="#000" stroke="#000" stroke-width="0.2">E</text>
<text x="16.80" y="478.00" font-size="10.8" font-weight="bold" font-style="normal" text-anchor="middle" fill="#000" transform="rotate(-90 16.80 478.00)" stroke="#000" stroke-width="0.2">NAMPT activity</text>
<text x="30.60" y="478.00" font-size="10.8" font-weight="bold" font-style="normal" text-anchor="middle" fill="#000" transform="rotate(-90 30.60 478.00)" stroke="#000" stroke-width="0.2">(&#916;OD per 10<tspan dy="-3.89" font-size="8.42">6</tspan><tspan dy="3.89"> cells)</tspan></text>
<rect x="356.49" y="443.08" width="5.59" height="98.12" fill="#fff" stroke="#000000" stroke-width="2.15"/>
<line x1="359.28" y1="435.20" x2="359.28" y2="450.95" stroke="#000000" stroke-width="0.8" stroke-linecap="butt"/>
<line x1="357.13" y1="435.20" x2="361.43" y2="435.20" stroke="#000000" stroke-width="0.8" stroke-linecap="butt"/>
<line x1="357.13" y1="450.95" x2="361.43" y2="450.95" stroke="#000000" stroke-width="0.8" stroke-linecap="butt"/>
<circle cx="359.28" cy="434.42" r="2.85" fill="#000"/>
<circle cx="359.28" cy="445.00" r="2.85" fill="#000"/>
<circle cx="360.79" cy="449.81" r="2.85" fill="#000"/>
<rect x="368.52" y="512.82" width="5.59" height="28.38" fill="#fff" stroke="#848484" stroke-width="2.15"/>
<line x1="371.32" y1="510.62" x2="371.32" y2="515.03" stroke="#848484" stroke-width="0.8" stroke-linecap="butt"/>
<line x1="369.17" y1="510.62" x2="373.47" y2="510.62" stroke="#848484" stroke-width="0.8" stroke-linecap="butt"/>
<line x1="369.17" y1="515.03" x2="373.47" y2="515.03" stroke="#848484" stroke-width="0.8" stroke-linecap="butt"/>
<circle cx="371.32" cy="510.42" r="2.55" fill="#989898" stroke="#7c7c7c" stroke-width="0.6"/>
<circle cx="372.82" cy="513.30" r="2.55" fill="#989898" stroke="#7c7c7c" stroke-width="0.6"/>
<circle cx="369.81" cy="514.75" r="2.55" fill="#989898" stroke="#7c7c7c" stroke-width="0.6"/>
<rect x="387.94" y="433.06" width="5.59" height="108.14" fill="#fff" stroke="#000000" stroke-width="2.15"/>
<line x1="390.73" y1="424.52" x2="390.73" y2="441.59" stroke="#000000" stroke-width="0.8" stroke-linecap="butt"/>
<line x1="388.58" y1="424.52" x2="392.88" y2="424.52" stroke="#000000" stroke-width="0.8" stroke-linecap="butt"/>
<line x1="388.58" y1="441.59" x2="392.88" y2="441.59" stroke="#000000" stroke-width="0.8" stroke-linecap="butt"/>
<circle cx="390.73" cy="423.60" r="2.85" fill="#000"/>
<circle cx="390.73" cy="435.38" r="2.85" fill="#000"/>
<circle cx="392.24" cy="440.19" r="2.85" fill="#000"/>
<rect x="399.97" y="516.67" width="5.59" height="24.53" fill="#fff" stroke="#848484" stroke-width="2.15"/>
<line x1="402.77" y1="513.51" x2="402.77" y2="519.82" stroke="#848484" stroke-width="0.8" stroke-linecap="butt"/>
<line x1="400.62" y1="513.51" x2="404.92" y2="513.51" stroke="#848484" stroke-width="0.8" stroke-linecap="butt"/>
<line x1="400.62" y1="519.82" x2="404.92" y2="519.82" stroke="#848484" stroke-width="0.8" stroke-linecap="butt"/>
<circle cx="402.77" cy="513.30" r="2.55" fill="#989898" stroke="#7c7c7c" stroke-width="0.6"/>
<circle cx="404.27" cy="517.15" r="2.55" fill="#989898" stroke="#7c7c7c" stroke-width="0.6"/>
<circle cx="401.26" cy="519.56" r="2.55" fill="#989898" stroke="#7c7c7c" stroke-width="0.6"/>
<rect x="419.38" y="451.09" width="5.59" height="90.11" fill="#fff" stroke="#000000" stroke-width="2.15"/>
<line x1="422.18" y1="445.95" x2="422.18" y2="456.24" stroke="#000000" stroke-width="0.8" stroke-linecap="butt"/>
<line x1="420.03" y1="445.95" x2="424.33" y2="445.95" stroke="#000000" stroke-width="0.8" stroke-linecap="butt"/>
<line x1="420.03" y1="456.24" x2="424.33" y2="456.24" stroke="#000000" stroke-width="0.8" stroke-linecap="butt"/>
<circle cx="422.18" cy="445.48" r="2.85" fill="#000"/>
<circle cx="422.18" cy="452.22" r="2.85" fill="#000"/>
<circle cx="423.69" cy="455.58" r="2.85" fill="#000"/>
<rect x="431.42" y="523.56" width="5.59" height="17.64" fill="#fff" stroke="#848484" stroke-width="2.15"/>
<line x1="434.22" y1="521.14" x2="434.22" y2="525.98" stroke="#848484" stroke-width="0.8" stroke-linecap="butt"/>
<line x1="432.07" y1="521.14" x2="436.37" y2="521.14" stroke="#848484" stroke-width="0.8" stroke-linecap="butt"/>
<line x1="432.07" y1="525.98" x2="436.37" y2="525.98" stroke="#848484" stroke-width="0.8" stroke-linecap="butt"/>
<circle cx="434.22" cy="521.00" r="2.55" fill="#989898" stroke="#7c7c7c" stroke-width="0.6"/>
<circle cx="435.72" cy="523.88" r="2.55" fill="#989898" stroke="#7c7c7c" stroke-width="0.6"/>
<circle cx="432.71" cy="525.81" r="2.55" fill="#989898" stroke="#7c7c7c" stroke-width="0.6"/>
<rect x="450.83" y="456.22" width="5.59" height="84.98" fill="#fff" stroke="#000000" stroke-width="2.15"/>
<line x1="453.63" y1="452.55" x2="453.63" y2="459.90" stroke="#000000" stroke-width="0.8" stroke-linecap="butt"/>
<line x1="451.48" y1="452.55" x2="455.78" y2="452.55" stroke="#000000" stroke-width="0.8" stroke-linecap="butt"/>
<line x1="451.48" y1="459.90" x2="455.78" y2="459.90" stroke="#000000" stroke-width="0.8" stroke-linecap="butt"/>
<circle cx="453.63" cy="452.22" r="2.85" fill="#000"/>
<circle cx="455.13" cy="457.03" r="2.85" fill="#000"/>
<circle cx="452.12" cy="459.43" r="2.85" fill="#000"/>
<rect x="462.87" y="517.15" width="5.59" height="24.05" fill="#fff" stroke="#848484" stroke-width="2.15"/>
<line x1="465.67" y1="513.68" x2="465.67" y2="520.62" stroke="#848484" stroke-width="0.8" stroke-linecap="butt"/>
<line x1="463.52" y1="513.68" x2="467.82" y2="513.68" stroke="#848484" stroke-width="0.8" stroke-linecap="butt"/>
<line x1="463.52" y1="520.62" x2="467.82" y2="520.62" stroke="#848484" stroke-width="0.8" stroke-linecap="butt"/>
<circle cx="465.67" cy="513.30" r="2.55" fill="#989898" stroke="#7c7c7c" stroke-width="0.6"/>
<circle cx="467.17" cy="518.11" r="2.55" fill="#989898" stroke="#7c7c7c" stroke-width="0.6"/>
<circle cx="464.16" cy="520.04" r="2.55" fill="#989898" stroke="#7c7c7c" stroke-width="0.6"/>
<rect x="482.29" y="432.65" width="5.59" height="108.55" fill="#fff" stroke="#000000" stroke-width="2.15"/>
<line x1="485.08" y1="427.98" x2="485.08" y2="437.33" stroke="#000000" stroke-width="0.8" stroke-linecap="butt"/>
<line x1="482.93" y1="427.98" x2="487.23" y2="427.98" stroke="#000000" stroke-width="0.8" stroke-linecap="butt"/>
<line x1="482.93" y1="437.33" x2="487.23" y2="437.33" stroke="#000000" stroke-width="0.8" stroke-linecap="butt"/>
<circle cx="485.08" cy="428.65" r="2.85" fill="#000"/>
<circle cx="486.59" cy="431.53" r="2.85" fill="#000"/>
<circle cx="485.08" cy="437.79" r="2.85" fill="#000"/>
<rect x="494.32" y="525.01" width="5.59" height="16.19" fill="#fff" stroke="#848484" stroke-width="2.15"/>
<line x1="497.12" y1="522.11" x2="497.12" y2="527.91" stroke="#848484" stroke-width="0.8" stroke-linecap="butt"/>
<line x1="494.97" y1="522.11" x2="499.27" y2="522.11" stroke="#848484" stroke-width="0.8" stroke-linecap="butt"/>
<line x1="494.97" y1="527.91" x2="499.27" y2="527.91" stroke="#848484" stroke-width="0.8" stroke-linecap="butt"/>
<circle cx="497.12" cy="521.96" r="2.55" fill="#989898" stroke="#7c7c7c" stroke-width="0.6"/>
<circle cx="498.62" cy="525.33" r="2.55" fill="#989898" stroke="#7c7c7c" stroke-width="0.6"/>
<circle cx="495.62" cy="527.73" r="2.55" fill="#989898" stroke="#7c7c7c" stroke-width="0.6"/>
<rect x="513.74" y="433.46" width="5.59" height="107.74" fill="#fff" stroke="#000000" stroke-width="2.15"/>
<line x1="516.53" y1="425.11" x2="516.53" y2="441.80" stroke="#000000" stroke-width="0.8" stroke-linecap="butt"/>
<line x1="514.38" y1="425.11" x2="518.68" y2="425.11" stroke="#000000" stroke-width="0.8" stroke-linecap="butt"/>
<line x1="514.38" y1="441.80" x2="518.68" y2="441.80" stroke="#000000" stroke-width="0.8" stroke-linecap="butt"/>
<circle cx="516.53" cy="426.24" r="2.85" fill="#000"/>
<circle cx="516.53" cy="431.53" r="2.85" fill="#000"/>
<circle cx="516.53" cy="442.60" r="2.85" fill="#000"/>
<rect x="525.77" y="515.71" width="5.59" height="25.49" fill="#fff" stroke="#848484" stroke-width="2.15"/>
<line x1="528.57" y1="509.88" x2="528.57" y2="521.54" stroke="#848484" stroke-width="0.8" stroke-linecap="butt"/>
<line x1="526.42" y1="509.88" x2="530.72" y2="509.88" stroke="#848484" stroke-width="0.8" stroke-linecap="butt"/>
<line x1="526.42" y1="521.54" x2="530.72" y2="521.54" stroke="#848484" stroke-width="0.8" stroke-linecap="butt"/>
<circle cx="528.57" cy="510.42" r="2.55" fill="#989898" stroke="#7c7c7c" stroke-width="0.6"/>
<circle cx="530.07" cy="514.75" r="2.55" fill="#989898" stroke="#7c7c7c" stroke-width="0.6"/>
<circle cx="528.57" cy="521.96" r="2.55" fill="#989898" stroke="#7c7c7c" stroke-width="0.6"/>
<rect x="545.19" y="457.03" width="5.59" height="84.18" fill="#fff" stroke="#000000" stroke-width="2.15"/>
<line x1="547.98" y1="453.66" x2="547.98" y2="460.39" stroke="#000000" stroke-width="0.8" stroke-linecap="butt"/>
<line x1="545.83" y1="453.66" x2="550.13" y2="453.66" stroke="#000000" stroke-width="0.8" stroke-linecap="butt"/>
<line x1="545.83" y1="460.39" x2="550.13" y2="460.39" stroke="#000000" stroke-width="0.8" stroke-linecap="butt"/>
<circle cx="547.98" cy="453.66" r="2.85" fill="#000"/>
<circle cx="549.49" cy="457.03" r="2.85" fill="#000"/>
<circle cx="546.48" cy="460.39" r="2.85" fill="#000"/>
<rect x="557.23" y="528.85" width="5.59" height="12.35" fill="#fff" stroke="#848484" stroke-width="2.15"/>
<line x1="560.02" y1="525.96" x2="560.02" y2="531.75" stroke="#848484" stroke-width="0.8" stroke-linecap="butt"/>
<line x1="557.87" y1="525.96" x2="562.17" y2="525.96" stroke="#848484" stroke-width="0.8" stroke-linecap="butt"/>
<line x1="557.87" y1="531.75" x2="562.17" y2="531.75" stroke="#848484" stroke-width="0.8" stroke-linecap="butt"/>
<circle cx="560.02" cy="525.81" r="2.55" fill="#989898" stroke="#7c7c7c" stroke-width="0.6"/>
<circle cx="561.52" cy="529.18" r="2.55" fill="#989898" stroke="#7c7c7c" stroke-width="0.6"/>
<circle cx="558.51" cy="531.58" r="2.55" fill="#989898" stroke="#7c7c7c" stroke-width="0.6"/>
<line x1="351.80" y1="396.04" x2="351.80" y2="542.06" stroke="#000" stroke-width="1.72" stroke-linecap="butt"/>
<line x1="350.94" y1="541.20" x2="567.65" y2="541.20" stroke="#000" stroke-width="1.72" stroke-linecap="butt"/>
<line x1="345.78" y1="541.20" x2="351.80" y2="541.20" stroke="#000" stroke-width="1.72" stroke-linecap="butt"/>
<text x="344.92" y="544.91" font-size="11.18" font-weight="bold" font-style="normal" text-anchor="end" fill="#000" stroke="#000" stroke-width="0.2">0</text>
<line x1="345.78" y1="493.10" x2="351.80" y2="493.10" stroke="#000" stroke-width="1.72" stroke-linecap="butt"/>
<text x="344.92" y="496.81" font-size="11.18" font-weight="bold" font-style="normal" text-anchor="end" fill="#000" stroke="#000" stroke-width="0.2">1</text>
<line x1="345.78" y1="445.00" x2="351.80" y2="445.00" stroke="#000" stroke-width="1.72" stroke-linecap="butt"/>
<text x="344.92" y="448.71" font-size="11.18" font-weight="bold" font-style="normal" text-anchor="end" fill="#000" stroke="#000" stroke-width="0.2">2</text>
<line x1="345.78" y1="396.90" x2="351.80" y2="396.90" stroke="#000" stroke-width="1.72" stroke-linecap="butt"/>
<text x="344.92" y="400.61" font-size="11.18" font-weight="bold" font-style="normal" text-anchor="end" fill="#000" stroke="#000" stroke-width="0.2">3</text>
<line x1="365.30" y1="541.20" x2="365.30" y2="547.44" stroke="#000" stroke-width="1.72" stroke-linecap="butt"/>
<text x="368.10" y="555.39" font-size="11.29" font-weight="bold" font-style="normal" text-anchor="end" fill="#000" transform="rotate(-45 368.10 555.39)" stroke="#000" stroke-width="0.2">GBM1</text>
<line x1="396.75" y1="541.20" x2="396.75" y2="547.44" stroke="#000" stroke-width="1.72" stroke-linecap="butt"/>
<text x="399.55" y="555.39" font-size="11.29" font-weight="bold" font-style="normal" text-anchor="end" fill="#000" transform="rotate(-45 399.55 555.39)" stroke="#000" stroke-width="0.2">GBM6</text>
<line x1="428.20" y1="541.20" x2="428.20" y2="547.44" stroke="#000" stroke-width="1.72" stroke-linecap="butt"/>
<text x="431.00" y="555.39" font-size="11.29" font-weight="bold" font-style="normal" text-anchor="end" fill="#000" transform="rotate(-45 431.00 555.39)" stroke="#000" stroke-width="0.2">SF10417</text>
<line x1="459.65" y1="541.20" x2="459.65" y2="547.44" stroke="#000" stroke-width="1.72" stroke-linecap="butt"/>
<text x="462.44" y="555.39" font-size="11.29" font-weight="bold" font-style="normal" text-anchor="end" fill="#000" transform="rotate(-45 462.44 555.39)" stroke="#000" stroke-width="0.2">BT88</text>
<line x1="491.10" y1="541.20" x2="491.10" y2="547.44" stroke="#000" stroke-width="1.72" stroke-linecap="butt"/>
<text x="493.90" y="555.39" font-size="11.29" font-weight="bold" font-style="normal" text-anchor="end" fill="#000" transform="rotate(-45 493.90 555.39)" stroke="#000" stroke-width="0.2">A375</text>
<line x1="522.55" y1="541.20" x2="522.55" y2="547.44" stroke="#000" stroke-width="1.72" stroke-linecap="butt"/>
<text x="525.34" y="555.39" font-size="11.29" font-weight="bold" font-style="normal" text-anchor="end" fill="#000" transform="rotate(-45 525.34 555.39)" stroke="#000" stroke-width="0.2">HepG2</text>
<line x1="554.00" y1="541.20" x2="554.00" y2="547.44" stroke="#000" stroke-width="1.72" stroke-linecap="butt"/>
<text x="556.79" y="555.39" font-size="11.29" font-weight="bold" font-style="normal" text-anchor="end" fill="#000" transform="rotate(-45 556.79 555.39)" stroke="#000" stroke-width="0.2">SK-N-SH</text>
<path d="M359.28 425.76 V406.20 H371.32 V501.76" fill="none" stroke="#000" stroke-width="1.72" stroke-linecap="round"/>
<path d="M354.83 393.80L356.14 393.80L356.25 395.91L358.01 394.95L358.71 396.06L357.07 397.30L358.71 398.54L358.01 399.65L356.25 398.69L356.14 400.80L354.83 400.80L354.71 398.69L352.95 399.65L352.26 398.54L353.89 397.30L352.26 396.06L352.95 394.95L354.71 395.91ZM361.50 393.80L362.82 393.80L362.93 395.91L364.69 394.95L365.39 396.06L363.75 397.30L365.39 398.54L364.69 399.65L362.93 398.69L362.82 400.80L361.50 400.80L361.39 398.69L359.63 399.65L358.94 398.54L360.57 397.30L358.94 396.06L359.63 394.95L361.39 395.91ZM368.18 393.80L369.50 393.80L369.61 395.91L371.37 394.95L372.06 396.06L370.43 397.30L372.06 398.54L371.37 399.65L369.61 398.69L369.50 400.80L368.18 400.80L368.07 398.69L366.31 399.65L365.61 398.54L367.25 397.30L365.61 396.06L366.31 394.95L368.07 395.91ZM374.86 393.80L376.17 393.80L376.29 395.91L378.05 394.95L378.74 396.06L377.11 397.30L378.74 398.54L378.05 399.65L376.29 398.69L376.17 400.80L374.86 400.80L374.75 398.69L372.99 399.65L372.29 398.54L373.93 397.30L372.29 396.06L372.99 394.95L374.75 395.91Z" fill="#000"/>
<path d="M390.73 414.94 V380.30 H402.77 V504.65" fill="none" stroke="#000" stroke-width="1.72" stroke-linecap="round"/>
<path d="M386.28 367.90L387.59 367.90L387.70 370.01L389.46 369.05L390.16 370.16L388.52 371.40L390.16 372.64L389.46 373.75L387.70 372.79L387.59 374.90L386.28 374.90L386.16 372.79L384.40 373.75L383.71 372.64L385.34 371.40L383.71 370.16L384.40 369.05L386.16 370.01ZM392.95 367.90L394.27 367.90L394.38 370.01L396.14 369.05L396.84 370.16L395.20 371.40L396.84 372.64L396.14 373.75L394.38 372.79L394.27 374.90L392.95 374.90L392.84 372.79L391.08 373.75L390.39 372.64L392.02 371.40L390.39 370.16L391.08 369.05L392.84 370.01ZM399.63 367.90L400.95 367.90L401.06 370.01L402.82 369.05L403.51 370.16L401.88 371.40L403.51 372.64L402.82 373.75L401.06 372.79L400.95 374.90L399.63 374.90L399.52 372.79L397.76 373.75L397.06 372.64L398.70 371.40L397.06 370.16L397.76 369.05L399.52 370.01ZM406.31 367.90L407.62 367.90L407.74 370.01L409.50 369.05L410.19 370.16L408.56 371.40L410.19 372.64L409.50 373.75L407.74 372.79L407.62 374.90L406.31 374.90L406.20 372.79L404.44 373.75L403.74 372.64L405.38 371.40L403.74 370.16L404.44 369.05L406.20 370.01Z" fill="#000"/>
<path d="M422.18 436.83 V406.20 H434.22 V512.34" fill="none" stroke="#000" stroke-width="1.72" stroke-linecap="round"/>
<path d="M417.73 393.80L419.04 393.80L419.15 395.91L420.91 394.95L421.61 396.06L419.97 397.30L421.61 398.54L420.91 399.65L419.15 398.69L419.04 400.80L417.73 400.80L417.61 398.69L415.85 399.65L415.16 398.54L416.79 397.30L415.16 396.06L415.85 394.95L417.61 395.91ZM424.40 393.80L425.72 393.80L425.83 395.91L427.59 394.95L428.29 396.06L426.65 397.30L428.29 398.54L427.59 399.65L425.83 398.69L425.72 400.80L424.40 400.80L424.29 398.69L422.53 399.65L421.84 398.54L423.47 397.30L421.84 396.06L422.53 394.95L424.29 395.91ZM431.08 393.80L432.40 393.80L432.51 395.91L434.27 394.95L434.96 396.06L433.33 397.30L434.96 398.54L434.27 399.65L432.51 398.69L432.40 400.80L431.08 400.80L430.97 398.69L429.21 399.65L428.51 398.54L430.15 397.30L428.51 396.06L429.21 394.95L430.97 395.91ZM437.76 393.80L439.07 393.80L439.19 395.91L440.95 394.95L441.64 396.06L440.01 397.30L441.64 398.54L440.95 399.65L439.19 398.69L439.07 400.80L437.76 400.80L437.65 398.69L435.89 399.65L435.19 398.54L436.83 397.30L435.19 396.06L435.89 394.95L437.65 395.91Z" fill="#000"/>
<path d="M453.63 443.56 V380.30 H465.67 V504.65" fill="none" stroke="#000" stroke-width="1.72" stroke-linecap="round"/>
<path d="M449.18 367.90L450.49 367.90L450.60 370.01L452.36 369.05L453.06 370.16L451.42 371.40L453.06 372.64L452.36 373.75L450.60 372.79L450.49 374.90L449.18 374.90L449.06 372.79L447.30 373.75L446.61 372.64L448.24 371.40L446.61 370.16L447.30 369.05L449.06 370.01ZM455.85 367.90L457.17 367.90L457.28 370.01L459.04 369.05L459.74 370.16L458.10 371.40L459.74 372.64L459.04 373.75L457.28 372.79L457.17 374.90L455.85 374.90L455.74 372.79L453.98 373.75L453.29 372.64L454.92 371.40L453.29 370.16L453.98 369.05L455.74 370.01ZM462.53 367.90L463.85 367.90L463.96 370.01L465.72 369.05L466.41 370.16L464.78 371.40L466.41 372.64L465.72 373.75L463.96 372.79L463.85 374.90L462.53 374.90L462.42 372.79L460.66 373.75L459.96 372.64L461.60 371.40L459.96 370.16L460.66 369.05L462.42 370.01ZM469.21 367.90L470.52 367.90L470.64 370.01L472.40 369.05L473.09 370.16L471.46 371.40L473.09 372.64L472.40 373.75L470.64 372.79L470.52 374.90L469.21 374.90L469.10 372.79L467.34 373.75L466.64 372.64L468.28 371.40L466.64 370.16L467.34 369.05L469.10 370.01Z" fill="#000"/>
<path d="M485.08 419.81 V406.20 H497.12 V513.31" fill="none" stroke="#000" stroke-width="1.72" stroke-linecap="round"/>
<path d="M480.63 393.80L481.94 393.80L482.05 395.91L483.81 394.95L484.51 396.06L482.87 397.30L484.51 398.54L483.81 399.65L482.05 398.69L481.94 400.80L480.63 400.80L480.51 398.69L478.75 399.65L478.06 398.54L479.69 397.30L478.06 396.06L478.75 394.95L480.51 395.91ZM487.30 393.80L488.62 393.80L488.73 395.91L490.49 394.95L491.19 396.06L489.55 397.30L491.19 398.54L490.49 399.65L488.73 398.69L488.62 400.80L487.30 400.80L487.19 398.69L485.43 399.65L484.74 398.54L486.37 397.30L484.74 396.06L485.43 394.95L487.19 395.91ZM493.98 393.80L495.30 393.80L495.41 395.91L497.17 394.95L497.86 396.06L496.23 397.30L497.86 398.54L497.17 399.65L495.41 398.69L495.30 400.80L493.98 400.80L493.87 398.69L492.11 399.65L491.41 398.54L493.05 397.30L491.41 396.06L492.11 394.95L493.87 395.91ZM500.66 393.80L501.97 393.80L502.09 395.91L503.85 394.95L504.54 396.06L502.91 397.30L504.54 398.54L503.85 399.65L502.09 398.69L501.97 400.80L500.66 400.80L500.55 398.69L498.79 399.65L498.09 398.54L499.73 397.30L498.09 396.06L498.79 394.95L500.55 395.91Z" fill="#000"/>
<path d="M516.53 416.94 V380.30 H528.57 V501.71" fill="none" stroke="#000" stroke-width="1.72" stroke-linecap="round"/>
<path d="M512.08 367.90L513.39 367.90L513.50 370.01L515.26 369.05L515.96 370.16L514.32 371.40L515.96 372.64L515.26 373.75L513.50 372.79L513.39 374.90L512.08 374.90L511.96 372.79L510.20 373.75L509.51 372.64L511.14 371.40L509.51 370.16L510.20 369.05L511.96 370.01ZM518.75 367.90L520.07 367.90L520.18 370.01L521.94 369.05L522.64 370.16L521.00 371.40L522.64 372.64L521.94 373.75L520.18 372.79L520.07 374.90L518.75 374.90L518.64 372.79L516.88 373.75L516.19 372.64L517.82 371.40L516.19 370.16L516.88 369.05L518.64 370.01ZM525.43 367.90L526.75 367.90L526.86 370.01L528.62 369.05L529.31 370.16L527.68 371.40L529.31 372.64L528.62 373.75L526.86 372.79L526.75 374.90L525.43 374.90L525.32 372.79L523.56 373.75L522.86 372.64L524.50 371.40L522.86 370.16L523.56 369.05L525.32 370.01ZM532.11 367.90L533.42 367.90L533.54 370.01L535.30 369.05L535.99 370.16L534.36 371.40L535.99 372.64L535.30 373.75L533.54 372.79L533.42 374.90L532.11 374.90L532.00 372.79L530.24 373.75L529.54 372.64L531.18 371.40L529.54 370.16L530.24 369.05L532.00 370.01Z" fill="#000"/>
<path d="M547.98 445.00 V406.20 H560.02 V517.15" fill="none" stroke="#000" stroke-width="1.72" stroke-linecap="round"/>
<path d="M543.53 393.80L544.84 393.80L544.95 395.91L546.71 394.95L547.41 396.06L545.77 397.30L547.41 398.54L546.71 399.65L544.95 398.69L544.84 400.80L543.53 400.80L543.41 398.69L541.65 399.65L540.96 398.54L542.59 397.30L540.96 396.06L541.65 394.95L543.41 395.91ZM550.20 393.80L551.52 393.80L551.63 395.91L553.39 394.95L554.09 396.06L552.45 397.30L554.09 398.54L553.39 399.65L551.63 398.69L551.52 400.80L550.20 400.80L550.09 398.69L548.33 399.65L547.64 398.54L549.27 397.30L547.64 396.06L548.33 394.95L550.09 395.91ZM556.88 393.80L558.20 393.80L558.31 395.91L560.07 394.95L560.76 396.06L559.13 397.30L560.76 398.54L560.07 399.65L558.31 398.69L558.20 400.80L556.88 400.80L556.77 398.69L555.01 399.65L554.31 398.54L555.95 397.30L554.31 396.06L555.01 394.95L556.77 395.91ZM563.56 393.80L564.87 393.80L564.99 395.91L566.75 394.95L567.44 396.06L565.81 397.30L567.44 398.54L566.75 399.65L564.99 398.69L564.87 400.80L563.56 400.80L563.45 398.69L561.69 399.65L560.99 398.54L562.63 397.30L560.99 396.06L561.69 394.95L563.45 395.91Z" fill="#000"/>
<circle cx="422.90" cy="334.00" r="3.01" fill="#000"/>
<circle cx="422.90" cy="354.10" r="2.47" fill="#a0a0a0" stroke="#7c7c7c" stroke-width="0.6"/>
<text x="439.56" y="338.14" font-size="11.61" font-weight="normal" font-style="normal" text-anchor="start" fill="#000" stroke="#000" stroke-width="0.2">TERT+</text>
<text x="439.56" y="358.19" font-size="11.61" font-weight="normal" font-style="normal" text-anchor="start" fill="#000" stroke="#000" stroke-width="0.2">TERT-</text>
<text x="313.80" y="343.20" font-size="16" font-weight="bold" font-style="normal" text-anchor="start" fill="#000" stroke="#000" stroke-width="0.2">F</text>
<text x="323.80" y="469.20" font-size="11.61" font-weight="bold" font-style="normal" text-anchor="middle" fill="#000" transform="rotate(-90 323.80 469.20)" stroke="#000" stroke-width="0.2">Normalized GAPDH mRNA</text>
<rect x="671.73" y="453.28" width="5.43" height="88.92" fill="#fff" stroke="#000000" stroke-width="2.09"/>
<line x1="674.45" y1="444.25" x2="674.45" y2="462.31" stroke="#000000" stroke-width="0.8" stroke-linecap="butt"/>
<line x1="672.36" y1="444.25" x2="676.54" y2="444.25" stroke="#000000" stroke-width="0.8" stroke-linecap="butt"/>
<line x1="672.36" y1="462.31" x2="676.54" y2="462.31" stroke="#000000" stroke-width="0.8" stroke-linecap="butt"/>
<circle cx="674.45" cy="446.73" r="2.77" fill="#000"/>
<circle cx="675.91" cy="449.54" r="2.77" fill="#000"/>
<circle cx="674.45" cy="463.58" r="2.77" fill="#000"/>
<rect x="683.43" y="515.99" width="5.43" height="26.21" fill="#fff" stroke="#848484" stroke-width="2.09"/>
<line x1="686.15" y1="511.99" x2="686.15" y2="519.99" stroke="#848484" stroke-width="0.8" stroke-linecap="butt"/>
<line x1="684.06" y1="511.99" x2="688.24" y2="511.99" stroke="#848484" stroke-width="0.8" stroke-linecap="butt"/>
<line x1="684.06" y1="519.99" x2="688.24" y2="519.99" stroke="#848484" stroke-width="0.8" stroke-linecap="butt"/>
<circle cx="686.15" cy="511.78" r="2.47" fill="#989898" stroke="#7c7c7c" stroke-width="0.6"/>
<circle cx="687.61" cy="516.46" r="2.47" fill="#989898" stroke="#7c7c7c" stroke-width="0.6"/>
<circle cx="684.69" cy="519.74" r="2.47" fill="#989898" stroke="#7c7c7c" stroke-width="0.6"/>
<rect x="702.51" y="427.85" width="5.43" height="114.35" fill="#fff" stroke="#000000" stroke-width="2.09"/>
<line x1="705.23" y1="422.43" x2="705.23" y2="433.28" stroke="#000000" stroke-width="0.8" stroke-linecap="butt"/>
<line x1="703.14" y1="422.43" x2="707.32" y2="422.43" stroke="#000000" stroke-width="0.8" stroke-linecap="butt"/>
<line x1="703.14" y1="433.28" x2="707.32" y2="433.28" stroke="#000000" stroke-width="0.8" stroke-linecap="butt"/>
<circle cx="705.23" cy="422.86" r="2.77" fill="#000"/>
<circle cx="706.69" cy="427.07" r="2.77" fill="#000"/>
<circle cx="705.23" cy="433.62" r="2.77" fill="#000"/>
<rect x="714.21" y="515.37" width="5.43" height="26.83" fill="#fff" stroke="#848484" stroke-width="2.09"/>
<line x1="716.93" y1="512.79" x2="716.93" y2="517.95" stroke="#848484" stroke-width="0.8" stroke-linecap="butt"/>
<line x1="714.84" y1="512.79" x2="719.02" y2="512.79" stroke="#848484" stroke-width="0.8" stroke-linecap="butt"/>
<line x1="714.84" y1="517.95" x2="719.02" y2="517.95" stroke="#848484" stroke-width="0.8" stroke-linecap="butt"/>
<circle cx="716.93" cy="512.72" r="2.47" fill="#989898" stroke="#7c7c7c" stroke-width="0.6"/>
<circle cx="718.39" cy="515.52" r="2.47" fill="#989898" stroke="#7c7c7c" stroke-width="0.6"/>
<circle cx="715.47" cy="517.86" r="2.47" fill="#989898" stroke="#7c7c7c" stroke-width="0.6"/>
<rect x="733.29" y="460.46" width="5.43" height="81.74" fill="#fff" stroke="#000000" stroke-width="2.09"/>
<line x1="736.01" y1="455.65" x2="736.01" y2="465.26" stroke="#000000" stroke-width="0.8" stroke-linecap="butt"/>
<line x1="733.92" y1="455.65" x2="738.10" y2="455.65" stroke="#000000" stroke-width="0.8" stroke-linecap="butt"/>
<line x1="733.92" y1="465.26" x2="738.10" y2="465.26" stroke="#000000" stroke-width="0.8" stroke-linecap="butt"/>
<circle cx="736.01" cy="455.15" r="2.77" fill="#000"/>
<circle cx="736.01" cy="461.70" r="2.77" fill="#000"/>
<circle cx="737.47" cy="464.51" r="2.77" fill="#000"/>
<rect x="744.99" y="522.23" width="5.43" height="19.97" fill="#fff" stroke="#848484" stroke-width="2.09"/>
<line x1="747.71" y1="518.48" x2="747.71" y2="525.99" stroke="#848484" stroke-width="0.8" stroke-linecap="butt"/>
<line x1="745.62" y1="518.48" x2="749.80" y2="518.48" stroke="#848484" stroke-width="0.8" stroke-linecap="butt"/>
<line x1="745.62" y1="525.99" x2="749.80" y2="525.99" stroke="#848484" stroke-width="0.8" stroke-linecap="butt"/>
<circle cx="747.71" cy="518.33" r="2.47" fill="#989898" stroke="#7c7c7c" stroke-width="0.6"/>
<circle cx="749.17" cy="522.54" r="2.47" fill="#989898" stroke="#7c7c7c" stroke-width="0.6"/>
<circle cx="746.25" cy="525.82" r="2.47" fill="#989898" stroke="#7c7c7c" stroke-width="0.6"/>
<rect x="764.07" y="455.00" width="5.43" height="87.20" fill="#fff" stroke="#000000" stroke-width="2.09"/>
<line x1="766.79" y1="449.35" x2="766.79" y2="460.64" stroke="#000000" stroke-width="0.8" stroke-linecap="butt"/>
<line x1="764.70" y1="449.35" x2="768.88" y2="449.35" stroke="#000000" stroke-width="0.8" stroke-linecap="butt"/>
<line x1="764.70" y1="460.64" x2="768.88" y2="460.64" stroke="#000000" stroke-width="0.8" stroke-linecap="butt"/>
<circle cx="766.79" cy="449.07" r="2.77" fill="#000"/>
<circle cx="766.79" cy="455.62" r="2.77" fill="#000"/>
<circle cx="768.25" cy="460.30" r="2.77" fill="#000"/>
<rect x="775.77" y="520.36" width="5.43" height="21.84" fill="#fff" stroke="#848484" stroke-width="2.09"/>
<line x1="778.49" y1="516.79" x2="778.49" y2="523.93" stroke="#848484" stroke-width="0.8" stroke-linecap="butt"/>
<line x1="776.40" y1="516.79" x2="780.58" y2="516.79" stroke="#848484" stroke-width="0.8" stroke-linecap="butt"/>
<line x1="776.40" y1="523.93" x2="780.58" y2="523.93" stroke="#848484" stroke-width="0.8" stroke-linecap="butt"/>
<circle cx="778.49" cy="516.46" r="2.47" fill="#989898" stroke="#7c7c7c" stroke-width="0.6"/>
<circle cx="779.95" cy="521.14" r="2.47" fill="#989898" stroke="#7c7c7c" stroke-width="0.6"/>
<circle cx="777.03" cy="523.48" r="2.47" fill="#989898" stroke="#7c7c7c" stroke-width="0.6"/>
<rect x="794.85" y="427.23" width="5.43" height="114.97" fill="#fff" stroke="#000000" stroke-width="2.09"/>
<line x1="797.57" y1="421.45" x2="797.57" y2="433.00" stroke="#000000" stroke-width="0.8" stroke-linecap="butt"/>
<line x1="795.48" y1="421.45" x2="799.66" y2="421.45" stroke="#000000" stroke-width="0.8" stroke-linecap="butt"/>
<line x1="795.48" y1="433.00" x2="799.66" y2="433.00" stroke="#000000" stroke-width="0.8" stroke-linecap="butt"/>
<circle cx="797.57" cy="422.39" r="2.77" fill="#000"/>
<circle cx="799.03" cy="425.67" r="2.77" fill="#000"/>
<circle cx="797.57" cy="433.62" r="2.77" fill="#000"/>
<rect x="806.55" y="509.75" width="5.43" height="32.45" fill="#fff" stroke="#848484" stroke-width="2.09"/>
<line x1="809.27" y1="502.71" x2="809.27" y2="516.79" stroke="#848484" stroke-width="0.8" stroke-linecap="butt"/>
<line x1="807.18" y1="502.71" x2="811.36" y2="502.71" stroke="#848484" stroke-width="0.8" stroke-linecap="butt"/>
<line x1="807.18" y1="516.79" x2="811.36" y2="516.79" stroke="#848484" stroke-width="0.8" stroke-linecap="butt"/>
<circle cx="809.27" cy="502.42" r="2.47" fill="#989898" stroke="#7c7c7c" stroke-width="0.6"/>
<circle cx="809.27" cy="510.38" r="2.47" fill="#989898" stroke="#7c7c7c" stroke-width="0.6"/>
<circle cx="809.27" cy="516.46" r="2.47" fill="#989898" stroke="#7c7c7c" stroke-width="0.6"/>
<rect x="825.63" y="460.14" width="5.43" height="82.06" fill="#fff" stroke="#000000" stroke-width="2.09"/>
<line x1="828.35" y1="449.68" x2="828.35" y2="470.61" stroke="#000000" stroke-width="0.8" stroke-linecap="butt"/>
<line x1="826.26" y1="449.68" x2="830.44" y2="449.68" stroke="#000000" stroke-width="0.8" stroke-linecap="butt"/>
<line x1="826.26" y1="470.61" x2="830.44" y2="470.61" stroke="#000000" stroke-width="0.8" stroke-linecap="butt"/>
<circle cx="828.35" cy="448.13" r="2.77" fill="#000"/>
<circle cx="828.35" cy="464.98" r="2.77" fill="#000"/>
<circle cx="829.81" cy="467.32" r="2.77" fill="#000"/>
<rect x="837.33" y="521.30" width="5.43" height="20.90" fill="#fff" stroke="#848484" stroke-width="2.09"/>
<line x1="840.05" y1="518.01" x2="840.05" y2="524.58" stroke="#848484" stroke-width="0.8" stroke-linecap="butt"/>
<line x1="837.96" y1="518.01" x2="842.14" y2="518.01" stroke="#848484" stroke-width="0.8" stroke-linecap="butt"/>
<line x1="837.96" y1="524.58" x2="842.14" y2="524.58" stroke="#848484" stroke-width="0.8" stroke-linecap="butt"/>
<circle cx="840.05" cy="517.86" r="2.47" fill="#989898" stroke="#7c7c7c" stroke-width="0.6"/>
<circle cx="841.51" cy="521.61" r="2.47" fill="#989898" stroke="#7c7c7c" stroke-width="0.6"/>
<circle cx="838.59" cy="524.42" r="2.47" fill="#989898" stroke="#7c7c7c" stroke-width="0.6"/>
<rect x="856.41" y="461.08" width="5.43" height="81.12" fill="#fff" stroke="#000000" stroke-width="2.09"/>
<line x1="859.13" y1="454.85" x2="859.13" y2="467.31" stroke="#000000" stroke-width="0.8" stroke-linecap="butt"/>
<line x1="857.04" y1="454.85" x2="861.22" y2="454.85" stroke="#000000" stroke-width="0.8" stroke-linecap="butt"/>
<line x1="857.04" y1="467.31" x2="861.22" y2="467.31" stroke="#000000" stroke-width="0.8" stroke-linecap="butt"/>
<circle cx="859.13" cy="454.22" r="2.77" fill="#000"/>
<circle cx="859.13" cy="462.64" r="2.77" fill="#000"/>
<circle cx="860.59" cy="466.38" r="2.77" fill="#000"/>
<rect x="868.12" y="527.38" width="5.43" height="14.82" fill="#fff" stroke="#848484" stroke-width="2.09"/>
<line x1="870.83" y1="521.49" x2="870.83" y2="533.27" stroke="#848484" stroke-width="0.8" stroke-linecap="butt"/>
<line x1="868.74" y1="521.49" x2="872.92" y2="521.49" stroke="#848484" stroke-width="0.8" stroke-linecap="butt"/>
<line x1="868.74" y1="533.27" x2="872.92" y2="533.27" stroke="#848484" stroke-width="0.8" stroke-linecap="butt"/>
<circle cx="870.83" cy="521.14" r="2.47" fill="#989898" stroke="#7c7c7c" stroke-width="0.6"/>
<circle cx="870.83" cy="528.16" r="2.47" fill="#989898" stroke="#7c7c7c" stroke-width="0.6"/>
<circle cx="872.29" cy="532.84" r="2.47" fill="#989898" stroke="#7c7c7c" stroke-width="0.6"/>
<line x1="666.80" y1="400.96" x2="666.80" y2="543.04" stroke="#000" stroke-width="1.672" stroke-linecap="butt"/>
<line x1="665.96" y1="542.20" x2="878.25" y2="542.20" stroke="#000" stroke-width="1.672" stroke-linecap="butt"/>
<line x1="660.95" y1="542.20" x2="666.80" y2="542.20" stroke="#000" stroke-width="1.672" stroke-linecap="butt"/>
<text x="660.11" y="545.81" font-size="10.87" font-weight="bold" font-style="normal" text-anchor="end" fill="#000" stroke="#000" stroke-width="0.2">0</text>
<line x1="660.95" y1="495.40" x2="666.80" y2="495.40" stroke="#000" stroke-width="1.672" stroke-linecap="butt"/>
<text x="660.11" y="499.01" font-size="10.87" font-weight="bold" font-style="normal" text-anchor="end" fill="#000" stroke="#000" stroke-width="0.2">100</text>
<line x1="660.95" y1="448.60" x2="666.80" y2="448.60" stroke="#000" stroke-width="1.672" stroke-linecap="butt"/>
<text x="660.11" y="452.21" font-size="10.87" font-weight="bold" font-style="normal" text-anchor="end" fill="#000" stroke="#000" stroke-width="0.2">200</text>
<line x1="660.95" y1="401.80" x2="666.80" y2="401.80" stroke="#000" stroke-width="1.672" stroke-linecap="butt"/>
<text x="660.11" y="405.41" font-size="10.87" font-weight="bold" font-style="normal" text-anchor="end" fill="#000" stroke="#000" stroke-width="0.2">300</text>
<line x1="680.30" y1="542.20" x2="680.30" y2="548.26" stroke="#000" stroke-width="1.672" stroke-linecap="butt"/>
<text x="683.02" y="555.99" font-size="10.97" font-weight="bold" font-style="normal" text-anchor="end" fill="#000" transform="rotate(-45 683.02 555.99)" stroke="#000" stroke-width="0.2">GBM1</text>
<line x1="711.08" y1="542.20" x2="711.08" y2="548.26" stroke="#000" stroke-width="1.672" stroke-linecap="butt"/>
<text x="713.80" y="555.99" font-size="10.97" font-weight="bold" font-style="normal" text-anchor="end" fill="#000" transform="rotate(-45 713.80 555.99)" stroke="#000" stroke-width="0.2">GBM6</text>
<line x1="741.86" y1="542.20" x2="741.86" y2="548.26" stroke="#000" stroke-width="1.672" stroke-linecap="butt"/>
<text x="744.58" y="555.99" font-size="10.97" font-weight="bold" font-style="normal" text-anchor="end" fill="#000" transform="rotate(-45 744.58 555.99)" stroke="#000" stroke-width="0.2">SF10417</text>
<line x1="772.64" y1="542.20" x2="772.64" y2="548.26" stroke="#000" stroke-width="1.672" stroke-linecap="butt"/>
<text x="775.36" y="555.99" font-size="10.97" font-weight="bold" font-style="normal" text-anchor="end" fill="#000" transform="rotate(-45 775.36 555.99)" stroke="#000" stroke-width="0.2">BT88</text>
<line x1="803.42" y1="542.20" x2="803.42" y2="548.26" stroke="#000" stroke-width="1.672" stroke-linecap="butt"/>
<text x="806.14" y="555.99" font-size="10.97" font-weight="bold" font-style="normal" text-anchor="end" fill="#000" transform="rotate(-45 806.14 555.99)" stroke="#000" stroke-width="0.2">A375</text>
<line x1="834.20" y1="542.20" x2="834.20" y2="548.26" stroke="#000" stroke-width="1.672" stroke-linecap="butt"/>
<text x="836.92" y="555.99" font-size="10.97" font-weight="bold" font-style="normal" text-anchor="end" fill="#000" transform="rotate(-45 836.92 555.99)" stroke="#000" stroke-width="0.2">HepG2</text>
<line x1="864.98" y1="542.20" x2="864.98" y2="548.26" stroke="#000" stroke-width="1.672" stroke-linecap="butt"/>
<text x="867.70" y="555.99" font-size="10.97" font-weight="bold" font-style="normal" text-anchor="end" fill="#000" transform="rotate(-45 867.70 555.99)" stroke="#000" stroke-width="0.2">SK-N-SH</text>
<path d="M674.45 436.31 V404.70 H686.15 V503.37" fill="none" stroke="#000" stroke-width="1.67" stroke-linecap="round"/>
<path d="M670.07 392.61L671.35 392.61L671.46 394.67L673.18 393.72L673.86 394.81L672.26 396.03L673.86 397.24L673.18 398.33L671.46 397.39L671.35 399.45L670.07 399.45L669.96 397.39L668.24 398.33L667.56 397.24L669.16 396.03L667.56 394.81L668.24 393.72L669.96 394.67ZM676.59 392.61L677.88 392.61L677.99 394.67L679.71 393.72L680.39 394.81L678.79 396.03L680.39 397.24L679.71 398.33L677.99 397.39L677.88 399.45L676.59 399.45L676.48 397.39L674.77 398.33L674.08 397.24L675.68 396.03L674.08 394.81L674.77 393.72L676.48 394.67ZM683.12 392.61L684.41 392.61L684.52 394.67L686.23 393.72L686.92 394.81L685.32 396.03L686.92 397.24L686.23 398.33L684.52 397.39L684.41 399.45L683.12 399.45L683.01 397.39L681.29 398.33L680.61 397.24L682.21 396.03L680.61 394.81L681.29 393.72L683.01 394.67ZM689.65 392.61L690.93 392.61L691.04 394.67L692.76 393.72L693.44 394.81L691.84 396.03L693.44 397.24L692.76 398.33L691.04 397.39L690.93 399.45L689.65 399.45L689.54 397.39L687.82 398.33L687.14 397.24L688.74 396.03L687.14 394.81L687.82 393.72L689.54 394.67Z" fill="#000"/>
<path d="M705.23 414.45 V379.10 H716.93 V504.30" fill="none" stroke="#000" stroke-width="1.67" stroke-linecap="round"/>
<path d="M700.85 367.01L702.13 367.01L702.24 369.07L703.96 368.12L704.64 369.21L703.04 370.43L704.64 371.64L703.96 372.73L702.24 371.79L702.13 373.85L700.85 373.85L700.74 371.79L699.02 372.73L698.34 371.64L699.94 370.43L698.34 369.21L699.02 368.12L700.74 369.07ZM707.37 367.01L708.66 367.01L708.77 369.07L710.49 368.12L711.17 369.21L709.57 370.43L711.17 371.64L710.49 372.73L708.77 371.79L708.66 373.85L707.37 373.85L707.26 371.79L705.55 372.73L704.86 371.64L706.46 370.43L704.86 369.21L705.55 368.12L707.26 369.07ZM713.90 367.01L715.19 367.01L715.30 369.07L717.01 368.12L717.70 369.21L716.10 370.43L717.70 371.64L717.01 372.73L715.30 371.79L715.19 373.85L713.90 373.85L713.79 371.79L712.07 372.73L711.39 371.64L712.99 370.43L711.39 369.21L712.07 368.12L713.79 369.07ZM720.43 367.01L721.71 367.01L721.82 369.07L723.54 368.12L724.22 369.21L722.62 370.43L724.22 371.64L723.54 372.73L721.82 371.79L721.71 373.85L720.43 373.85L720.32 371.79L718.60 372.73L717.92 371.64L719.52 370.43L717.92 369.21L718.60 368.12L720.32 369.07Z" fill="#000"/>
<path d="M736.01 446.74 V404.70 H747.71 V509.92" fill="none" stroke="#000" stroke-width="1.67" stroke-linecap="round"/>
<path d="M731.63 392.61L732.91 392.61L733.02 394.67L734.74 393.72L735.42 394.81L733.82 396.03L735.42 397.24L734.74 398.33L733.02 397.39L732.91 399.45L731.63 399.45L731.52 397.39L729.80 398.33L729.12 397.24L730.72 396.03L729.12 394.81L729.80 393.72L731.52 394.67ZM738.15 392.61L739.44 392.61L739.55 394.67L741.27 393.72L741.95 394.81L740.35 396.03L741.95 397.24L741.27 398.33L739.55 397.39L739.44 399.45L738.15 399.45L738.04 397.39L736.33 398.33L735.64 397.24L737.24 396.03L735.64 394.81L736.33 393.72L738.04 394.67ZM744.68 392.61L745.97 392.61L746.08 394.67L747.79 393.72L748.48 394.81L746.88 396.03L748.48 397.24L747.79 398.33L746.08 397.39L745.97 399.45L744.68 399.45L744.57 397.39L742.85 398.33L742.17 397.24L743.77 396.03L742.17 394.81L742.85 393.72L744.57 394.67ZM751.21 392.61L752.49 392.61L752.60 394.67L754.32 393.72L755.00 394.81L753.40 396.03L755.00 397.24L754.32 398.33L752.60 397.39L752.49 399.45L751.21 399.45L751.10 397.39L749.38 398.33L748.70 397.24L750.30 396.03L748.70 394.81L749.38 393.72L751.10 394.67Z" fill="#000"/>
<path d="M766.79 440.66 V379.10 H778.49 V508.05" fill="none" stroke="#000" stroke-width="1.67" stroke-linecap="round"/>
<path d="M762.41 367.01L763.69 367.01L763.80 369.07L765.52 368.12L766.20 369.21L764.60 370.43L766.20 371.64L765.52 372.73L763.80 371.79L763.69 373.85L762.41 373.85L762.30 371.79L760.58 372.73L759.90 371.64L761.50 370.43L759.90 369.21L760.58 368.12L762.30 369.07ZM768.93 367.01L770.22 367.01L770.33 369.07L772.05 368.12L772.73 369.21L771.13 370.43L772.73 371.64L772.05 372.73L770.33 371.79L770.22 373.85L768.93 373.85L768.82 371.79L767.11 372.73L766.42 371.64L768.02 370.43L766.42 369.21L767.11 368.12L768.82 369.07ZM775.46 367.01L776.75 367.01L776.86 369.07L778.57 368.12L779.26 369.21L777.66 370.43L779.26 371.64L778.57 372.73L776.86 371.79L776.75 373.85L775.46 373.85L775.35 371.79L773.63 372.73L772.95 371.64L774.55 370.43L772.95 369.21L773.63 368.12L775.35 369.07ZM781.99 367.01L783.27 367.01L783.38 369.07L785.10 368.12L785.78 369.21L784.18 370.43L785.78 371.64L785.10 372.73L783.38 371.79L783.27 373.85L781.99 373.85L781.88 371.79L780.16 372.73L779.48 371.64L781.08 370.43L779.48 369.21L780.16 368.12L781.88 369.07Z" fill="#000"/>
<path d="M797.57 413.51 V404.70 H809.27 V494.01" fill="none" stroke="#000" stroke-width="1.67" stroke-linecap="round"/>
<path d="M793.19 392.61L794.47 392.61L794.58 394.67L796.30 393.72L796.98 394.81L795.38 396.03L796.98 397.24L796.30 398.33L794.58 397.39L794.47 399.45L793.19 399.45L793.08 397.39L791.36 398.33L790.68 397.24L792.28 396.03L790.68 394.81L791.36 393.72L793.08 394.67ZM799.71 392.61L801.00 392.61L801.11 394.67L802.83 393.72L803.51 394.81L801.91 396.03L803.51 397.24L802.83 398.33L801.11 397.39L801.00 399.45L799.71 399.45L799.60 397.39L797.89 398.33L797.20 397.24L798.80 396.03L797.20 394.81L797.89 393.72L799.60 394.67ZM806.24 392.61L807.53 392.61L807.64 394.67L809.35 393.72L810.04 394.81L808.44 396.03L810.04 397.24L809.35 398.33L807.64 397.39L807.53 399.45L806.24 399.45L806.13 397.39L804.41 398.33L803.73 397.24L805.33 396.03L803.73 394.81L804.41 393.72L806.13 394.67ZM812.77 392.61L814.05 392.61L814.16 394.67L815.88 393.72L816.56 394.81L814.96 396.03L816.56 397.24L815.88 398.33L814.16 397.39L814.05 399.45L812.77 399.45L812.66 397.39L810.94 398.33L810.26 397.24L811.86 396.03L810.26 394.81L810.94 393.72L812.66 394.67Z" fill="#000"/>
<path d="M828.35 439.72 V379.10 H840.05 V509.45" fill="none" stroke="#000" stroke-width="1.67" stroke-linecap="round"/>
<path d="M823.97 367.01L825.25 367.01L825.36 369.07L827.08 368.12L827.76 369.21L826.16 370.43L827.76 371.64L827.08 372.73L825.36 371.79L825.25 373.85L823.97 373.85L823.86 371.79L822.14 372.73L821.46 371.64L823.06 370.43L821.46 369.21L822.14 368.12L823.86 369.07ZM830.49 367.01L831.78 367.01L831.89 369.07L833.61 368.12L834.29 369.21L832.69 370.43L834.29 371.64L833.61 372.73L831.89 371.79L831.78 373.85L830.49 373.85L830.38 371.79L828.67 372.73L827.98 371.64L829.58 370.43L827.98 369.21L828.67 368.12L830.38 369.07ZM837.02 367.01L838.31 367.01L838.42 369.07L840.13 368.12L840.82 369.21L839.22 370.43L840.82 371.64L840.13 372.73L838.42 371.79L838.31 373.85L837.02 373.85L836.91 371.79L835.19 372.73L834.51 371.64L836.11 370.43L834.51 369.21L835.19 368.12L836.91 369.07ZM843.55 367.01L844.83 367.01L844.94 369.07L846.66 368.12L847.34 369.21L845.74 370.43L847.34 371.64L846.66 372.73L844.94 371.79L844.83 373.85L843.55 373.85L843.44 371.79L841.72 372.73L841.04 371.64L842.64 370.43L841.04 369.21L841.72 368.12L843.44 369.07Z" fill="#000"/>
<path d="M859.13 445.80 V404.70 H870.83 V512.73" fill="none" stroke="#000" stroke-width="1.67" stroke-linecap="round"/>
<path d="M854.75 392.61L856.03 392.61L856.14 394.67L857.86 393.72L858.54 394.81L856.94 396.03L858.54 397.24L857.86 398.33L856.14 397.39L856.03 399.45L854.75 399.45L854.64 397.39L852.92 398.33L852.24 397.24L853.84 396.03L852.24 394.81L852.92 393.72L854.64 394.67ZM861.27 392.61L862.56 392.61L862.67 394.67L864.39 393.72L865.07 394.81L863.47 396.03L865.07 397.24L864.39 398.33L862.67 397.39L862.56 399.45L861.27 399.45L861.16 397.39L859.45 398.33L858.76 397.24L860.36 396.03L858.76 394.81L859.45 393.72L861.16 394.67ZM867.80 392.61L869.09 392.61L869.20 394.67L870.91 393.72L871.60 394.81L870.00 396.03L871.60 397.24L870.91 398.33L869.20 397.39L869.09 399.45L867.80 399.45L867.69 397.39L865.97 398.33L865.29 397.24L866.89 396.03L865.29 394.81L865.97 393.72L867.69 394.67ZM874.33 392.61L875.61 392.61L875.72 394.67L877.44 393.72L878.12 394.81L876.52 396.03L878.12 397.24L877.44 398.33L875.72 397.39L875.61 399.45L874.33 399.45L874.22 397.39L872.50 398.33L871.82 397.24L873.42 396.03L871.82 394.81L872.50 393.72L874.22 394.67Z" fill="#000"/>
<circle cx="722.60" cy="333.80" r="2.93" fill="#000"/>
<circle cx="722.60" cy="353.34" r="2.40" fill="#a0a0a0" stroke="#7c7c7c" stroke-width="0.6"/>
<text x="738.80" y="337.82" font-size="11.29" font-weight="normal" font-style="normal" text-anchor="start" fill="#000" stroke="#000" stroke-width="0.2">TERT+</text>
<text x="738.80" y="357.31" font-size="11.29" font-weight="normal" font-style="normal" text-anchor="start" fill="#000" stroke="#000" stroke-width="0.2">TERT-</text>
<text x="615.70" y="343.20" font-size="16" font-weight="bold" font-style="normal" text-anchor="start" fill="#000" stroke="#000" stroke-width="0.2">G</text>
<text x="630.70" y="472.10" font-size="11.29" font-weight="bold" font-style="normal" text-anchor="middle" fill="#000" transform="rotate(-90 630.70 472.10)" stroke="#000" stroke-width="0.2">GAPDH activity (mU/mg protein)</text>
<text x="804.70" y="20.90" font-size="16" font-weight="bold" font-style="normal" text-anchor="start" fill="#000" stroke="#000" stroke-width="0.2">D</text>
<rect x="813" y="64.8" width="231.3" height="138.4" rx="22" ry="22" fill="none" stroke="#000" stroke-width="1.4"/>
<text x="827.10" y="77.40" font-size="10" font-weight="bold" font-style="italic" text-anchor="start" fill="#000" stroke="#000" stroke-width="0.2">Cancer cell</text>
<rect x="910.8" y="67.2" width="35.2" height="17.4" fill="#000"/>
<text x="928.40" y="79.70" font-size="9.6" font-weight="bold" font-style="normal" text-anchor="middle" fill="#fff" stroke="#fff" stroke-width="0.2">TERT</text>
<line x1="926.50" y1="86.10" x2="926.50" y2="105.20" stroke="#000" stroke-width="1.1" stroke-linecap="butt"/>
<line x1="922.00" y1="105.20" x2="931.40" y2="105.20" stroke="#000" stroke-width="1.1" stroke-linecap="butt"/>
<text x="926.80" y="117.10" font-size="10" font-weight="bold" font-style="italic" text-anchor="middle" fill="#000" stroke="#000" stroke-width="0.2">FOXO1</text>
<line x1="902.40" y1="115.20" x2="880.80" y2="128.50" stroke="#000" stroke-width="1.4" stroke-linecap="butt"/>
<line x1="877.00" y1="123.90" x2="883.40" y2="134.30" stroke="#000" stroke-width="1.4" stroke-linecap="butt"/>
<line x1="947.60" y1="114.30" x2="969.30" y2="127.70" stroke="#000" stroke-width="1.4" stroke-linecap="butt"/>
<line x1="973.10" y1="122.90" x2="966.70" y2="133.50" stroke="#000" stroke-width="1.4" stroke-linecap="butt"/>
<text x="863.40" y="145.40" font-size="10" font-weight="bold" font-style="italic" text-anchor="middle" fill="#000" stroke="#000" stroke-width="0.2">NAMPT</text>
<text x="986.80" y="145.60" font-size="10" font-weight="bold" font-style="italic" text-anchor="middle" fill="#000" stroke="#000" stroke-width="0.2">GAPDH</text>
<text x="816.80" y="155.40" font-size="9.9" font-weight="bold" font-style="normal" text-anchor="start" fill="#000" stroke="#000" stroke-width="0.2">NAM</text>
<line x1="843.40" y1="151.70" x2="880.80" y2="151.70" stroke="#000" stroke-width="1.1" stroke-linecap="butt"/>
<path d="M877.20 149.40 L880.80 151.70 L877.20 154.00" fill="none" stroke="#000" stroke-width="1.1"/>
<text x="885.80" y="155.40" font-size="9.9" font-weight="bold" font-style="normal" text-anchor="start" fill="#000" stroke="#000" stroke-width="0.2">NMN</text>
<line x1="913.10" y1="151.70" x2="933.40" y2="151.70" stroke="#000" stroke-width="1.1" stroke-linecap="butt"/>
<path d="M929.80 149.40 L933.40 151.70 L929.80 154.00" fill="none" stroke="#000" stroke-width="1.1"/>
<text x="938.40" y="155.40" font-size="9.9" font-weight="bold" font-style="normal" text-anchor="start" fill="#000" stroke="#000" stroke-width="0.2">NAD+</text>
<line x1="970.00" y1="151.70" x2="1007.00" y2="151.70" stroke="#000" stroke-width="1.1" stroke-linecap="butt"/>
<path d="M1003.40 149.40 L1007.00 151.70 L1003.40 154.00" fill="none" stroke="#000" stroke-width="1.1"/>
<text x="1010.00" y="155.40" font-size="9.9" font-weight="bold" font-style="normal" text-anchor="start" fill="#000" stroke="#000" stroke-width="0.2">NADH</text>
<text x="863.30" y="176.00" font-size="9.9" font-weight="bold" font-style="normal" text-anchor="start" fill="#000" stroke="#000" stroke-width="0.2">Pyruvate</text>
<line x1="907.50" y1="172.60" x2="944.50" y2="172.60" stroke="#000" stroke-width="1.1" stroke-linecap="butt"/>
<path d="M940.90 170.30 L944.50 172.60 L940.90 174.90" fill="none" stroke="#000" stroke-width="1.1"/>
<text x="951.00" y="176.00" font-size="9.9" font-weight="bold" font-style="normal" text-anchor="start" fill="#000" stroke="#000" stroke-width="0.2">Lactate</text>
<text x="882.80" y="199.60" font-size="9.9" font-weight="bold" font-style="normal" text-anchor="start" fill="#000" stroke="#000" stroke-width="0.2">NADH</text>
<text x="945.20" y="199.60" font-size="9.9" font-weight="bold" font-style="normal" text-anchor="start" fill="#000" stroke="#000" stroke-width="0.2">NAD+</text>
<path d="M904 190 C904.8 180 913 172.2 925 172.2 C934 172.2 941.5 175.8 945.6 182.6 L949.2 185.2 L945.3 190.6 L939.6 186.6 L942.3 185.1 C938.6 179.3 932.5 174.3 925 174.0 C916.5 174.0 909.6 180.2 908.5 190 Z" fill="#000"/>
</svg>
</body></html>
